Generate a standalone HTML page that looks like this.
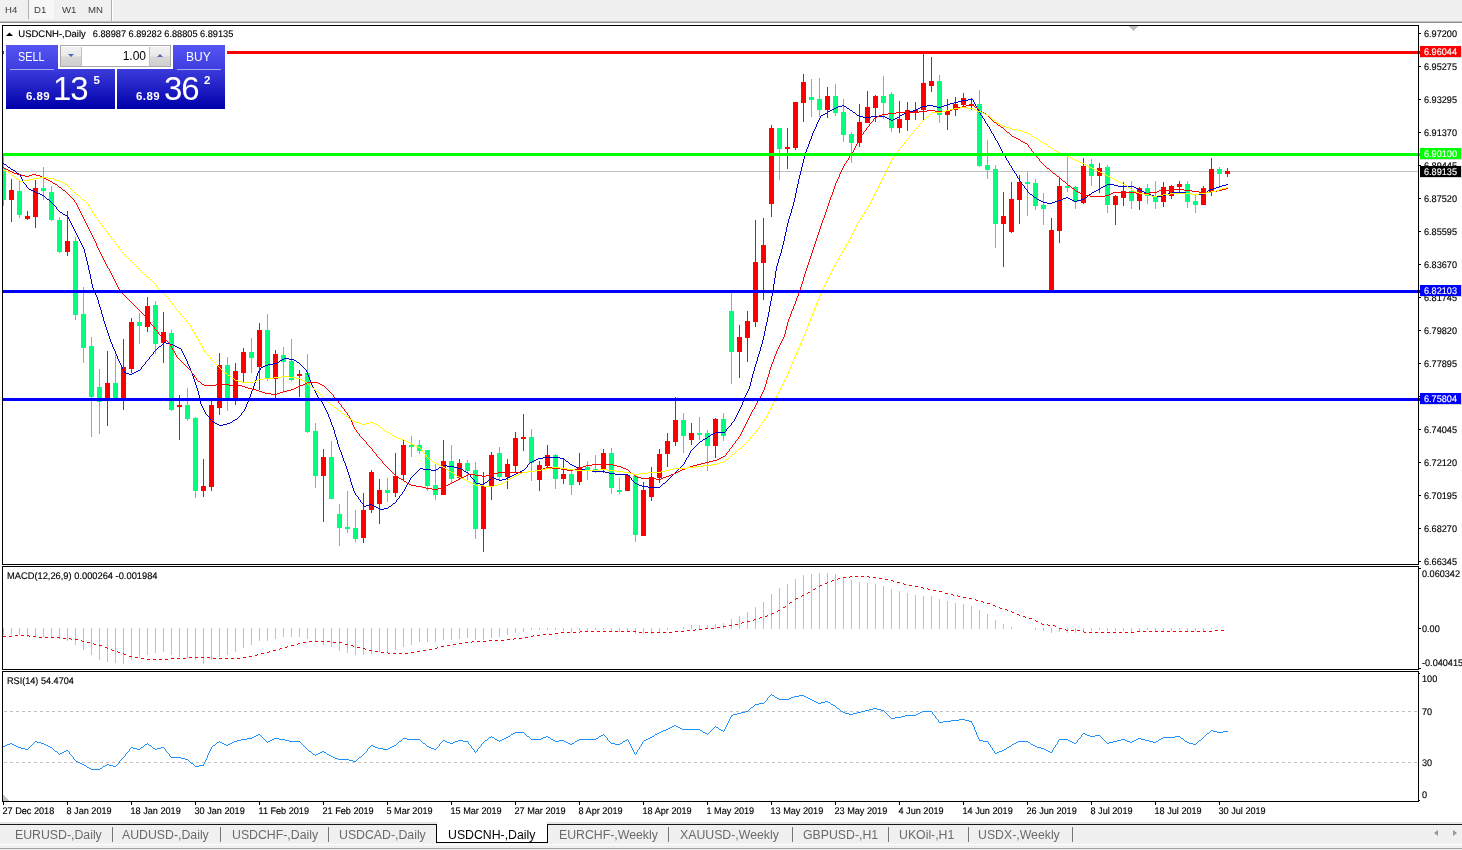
<!DOCTYPE html>
<html><head><meta charset="utf-8"><title>USDCNH-,Daily</title>
<style>
html,body{margin:0;padding:0;}
body{width:1462px;height:850px;overflow:hidden;background:#f0f0f0;position:relative;font-family:"Liberation Sans",sans-serif;}
#chart{position:absolute;left:0;top:0;}
.abs{position:absolute;}
#tb span{position:absolute;top:3.6px;font-size:9.6px;line-height:12px;color:#3a3a3a;}
#tabs span{position:absolute;top:827px;font-size:12.3px;color:#6a6a6a;white-space:nowrap;line-height:16px;}
#tabs i{position:absolute;top:827px;width:1px;height:15px;background:#777;}
.pnl{position:absolute;color:#fff;}
</style></head><body>
<svg id="chart" width="1462" height="850" viewBox="0 0 1462 850" shape-rendering="crispEdges">
<rect x="0" y="23" width="1462" height="799" fill="#fff"/>
<rect x="3" y="171" width="1416" height="1" fill="#c0c0c0"/>
<path fill="#00ff7f" d="M3 153h1V206h-1zM3 169h3v31h-3zM19 181h1V218h-1zM17 191h5v24h-5zM43 167h1V200h-1zM41 188h5v3h-5zM51 186h1V221h-1zM49 192h5v28h-5zM59 217h1V253h-1zM57 220h5v32h-5zM75 237h1V320h-1zM73 241h5v74h-5zM83 287h1V363h-1zM81 314h5v34h-5zM91 337h1V437h-1zM89 346h5v51h-5zM99 369h1V434h-1zM97 387h5v15h-5zM115 355h1V400h-1zM113 383h5v16h-5zM139 313h1V344h-1zM137 322h5v4h-5zM155 301h1V354h-1zM153 305h5v39h-5zM171 330h1V411h-1zM169 333h5v77h-5zM187 388h1V421h-1zM185 405h5v14h-5zM195 417h1V498h-1zM193 418h5v73h-5zM227 357h1V411h-1zM225 365h5v34h-5zM251 338h1V373h-1zM249 352h5v6h-5zM267 314h1V381h-1zM265 330h5v49h-5zM283 347h1V391h-1zM281 355h5v7h-5zM291 339h1V381h-1zM289 361h5v19h-5zM307 354h1V433h-1zM305 373h5v59h-5zM315 423h1V488h-1zM313 431h5v45h-5zM331 441h1V499h-1zM329 457h5v42h-5zM339 504h1V546h-1zM337 514h5v14h-5zM347 491h1V533h-1zM345 527h5v2h-5zM355 510h1V542h-1zM353 528h5v11h-5zM387 478h1V502h-1zM385 490h5v3h-5zM411 436h1V457h-1zM409 445h5v2h-5zM419 440h1V454h-1zM417 445h5v6h-5zM427 450h1V491h-1zM425 450h5v36h-5zM435 464h1V500h-1zM433 485h5v10h-5zM451 445h1V483h-1zM449 461h5v18h-5zM467 460h1V480h-1zM465 463h5v8h-5zM475 462h1V539h-1zM473 470h5v59h-5zM499 447h1V480h-1zM497 453h5v24h-5zM531 429h1V481h-1zM529 437h5v26h-5zM555 454h1V489h-1zM553 455h5v24h-5zM571 471h1V495h-1zM569 474h5v11h-5zM587 461h1V480h-1zM585 467h5v3h-5zM595 455h1V473h-1zM593 469h5v1h-5zM611 448h1V494h-1zM609 453h5v35h-5zM619 478h1V494h-1zM617 490h5v2h-5zM635 475h1V542h-1zM633 476h5v59h-5zM683 413h1V453h-1zM681 420h5v16h-5zM699 417h1V440h-1zM697 433h5v2h-5zM707 430h1V471h-1zM705 433h5v13h-5zM723 413h1V441h-1zM721 419h5v17h-5zM731 293h1V384h-1zM729 311h5v41h-5zM779 128h1V180h-1zM777 128h5v21h-5zM811 79h1V117h-1zM809 97h5v3h-5zM819 78h1V117h-1zM817 99h5v11h-5zM835 84h1V116h-1zM833 96h5v17h-5zM843 99h1V142h-1zM841 112h5v23h-5zM851 132h1V163h-1zM849 134h5v9h-5zM883 76h1V119h-1zM881 96h5v7h-5zM891 92h1V132h-1zM889 94h5v34h-5zM939 75h1V123h-1zM937 81h5v34h-5zM979 90h1V167h-1zM977 104h5v62h-5zM987 140h1V179h-1zM985 165h5v5h-5zM995 165h1V248h-1zM993 169h5v55h-5zM1027 172h1V216h-1zM1025 182h5v2h-5zM1035 179h1V210h-1zM1033 183h5v23h-5zM1043 193h1V225h-1zM1041 205h5v4h-5zM1067 157h1V192h-1zM1065 186h5v2h-5zM1075 186h1V209h-1zM1073 187h5v15h-5zM1091 159h1V186h-1zM1089 164h5v12h-5zM1107 165h1V213h-1zM1105 167h5v38h-5zM1131 181h1V209h-1zM1129 191h5v10h-5zM1147 184h1V204h-1zM1145 188h5v8h-5zM1155 181h1V209h-1zM1153 196h5v6h-5zM1187 181h1V208h-1zM1185 184h5v18h-5zM1195 194h1V213h-1zM1193 201h5v4h-5zM1219 167h1V188h-1zM1217 169h5v5h-5z"/>
<path fill="#ff0000" d="M11 179h1V222h-1zM9 190h5v10h-5zM27 211h1V220h-1zM25 216h5v3h-5zM35 180h1V228h-1zM33 188h5v29h-5zM67 211h1V256h-1zM65 241h5v11h-5zM107 351h1V426h-1zM105 383h5v16h-5zM123 339h1V410h-1zM121 367h5v32h-5zM131 318h1V373h-1zM129 322h5v47h-5zM147 297h1V332h-1zM145 306h5v21h-5zM163 312h1V363h-1zM161 332h5v11h-5zM179 395h1V440h-1zM177 405h5v2h-5zM203 459h1V497h-1zM201 486h5v5h-5zM211 400h1V491h-1zM209 405h5v82h-5zM219 353h1V415h-1zM217 365h5v43h-5zM235 363h1V405h-1zM233 371h5v28h-5zM243 348h1V382h-1zM241 352h5v21h-5zM259 323h1V390h-1zM257 330h5v37h-5zM275 350h1V398h-1zM273 354h5v25h-5zM299 370h1V397h-1zM297 374h5v2h-5zM323 449h1V522h-1zM321 457h5v19h-5zM363 493h1V543h-1zM361 510h5v28h-5zM371 470h1V513h-1zM369 472h5v38h-5zM379 479h1V524h-1zM377 490h5v14h-5zM395 453h1V497h-1zM393 476h5v17h-5zM403 440h1V481h-1zM401 445h5v30h-5zM443 440h1V495h-1zM441 461h5v34h-5zM459 459h1V479h-1zM457 463h5v15h-5zM483 472h1V552h-1zM481 486h5v43h-5zM491 452h1V500h-1zM489 455h5v32h-5zM507 459h1V489h-1zM505 464h5v13h-5zM515 432h1V473h-1zM513 438h5v28h-5zM523 414h1V451h-1zM521 437h5v2h-5zM539 461h1V491h-1zM537 465h5v15h-5zM547 445h1V468h-1zM545 455h5v11h-5zM563 458h1V484h-1zM561 474h5v5h-5zM579 453h1V485h-1zM577 467h5v15h-5zM603 449h1V473h-1zM601 453h5v16h-5zM627 475h1V491h-1zM625 475h5v16h-5zM643 482h1V536h-1zM641 490h5v46h-5zM651 467h1V501h-1zM649 477h5v20h-5zM659 449h1V483h-1zM657 454h5v24h-5zM667 433h1V467h-1zM665 441h5v13h-5zM675 397h1V446h-1zM673 420h5v22h-5zM691 423h1V445h-1zM689 433h5v7h-5zM715 418h1V458h-1zM713 419h5v27h-5zM739 325h1V378h-1zM737 337h5v15h-5zM747 311h1V362h-1zM745 321h5v17h-5zM755 220h1V327h-1zM753 262h5v60h-5zM763 218h1V300h-1zM761 245h5v18h-5zM771 125h1V217h-1zM769 128h5v76h-5zM787 128h1V169h-1zM785 147h5v2h-5zM795 102h1V150h-1zM793 102h5v46h-5zM803 74h1V122h-1zM801 82h5v21h-5zM827 87h1V118h-1zM825 96h5v14h-5zM859 104h1V147h-1zM857 122h5v21h-5zM867 91h1V123h-1zM865 107h5v16h-5zM875 95h1V122h-1zM873 96h5v12h-5zM899 101h1V133h-1zM897 119h5v9h-5zM907 102h1V131h-1zM905 110h5v10h-5zM915 102h1V120h-1zM913 110h5v2h-5zM923 54h1V120h-1zM921 83h5v27h-5zM931 57h1V92h-1zM929 81h5v5h-5zM947 99h1V130h-1zM945 111h5v4h-5zM955 97h1V116h-1zM953 104h5v6h-5zM963 93h1V107h-1zM961 98h5v7h-5zM971 98h1V110h-1zM969 104h5v2h-5zM1003 192h1V267h-1zM1001 216h5v8h-5zM1011 182h1V233h-1zM1009 199h5v33h-5zM1019 175h1V224h-1zM1017 182h5v18h-5zM1051 218h1V291h-1zM1049 230h5v61h-5zM1059 177h1V243h-1zM1057 186h5v45h-5zM1083 158h1V204h-1zM1081 166h5v37h-5zM1099 163h1V193h-1zM1097 168h5v8h-5zM1115 195h1V225h-1zM1113 196h5v9h-5zM1123 182h1V206h-1zM1121 191h5v7h-5zM1139 187h1V210h-1zM1137 188h5v13h-5zM1163 182h1V207h-1zM1161 187h5v15h-5zM1171 185h1V199h-1zM1169 186h5v10h-5zM1179 181h1V194h-1zM1177 184h5v3h-5zM1203 186h1V205h-1zM1201 188h5v17h-5zM1211 158h1V196h-1zM1209 169h5v23h-5zM1227 168h1V177h-1zM1225 171h5v3h-5z"/>
<path fill="#0000cd" d="M968 99h5v1h-5zM962 100h6v1h-6zM958 101h4v1h-4zM954 102h4v1h-4zM950 103h4v1h-4zM947 104h3v1h-3zM842 105h2v1h-2zM927 105h6v1h-6zM944 105h3v1h-3zM838 106h4v1h-4zM844 106h2v1h-2zM922 106h5v1h-5zM933 106h4v1h-4zM941 106h3v1h-3zM836 107h2v1h-2zM920 107h2v1h-2zM937 107h4v1h-4zM834 108h2v1h-2zM847 108h2v1h-2zM918 108h2v1h-2zM832 109h2v1h-2zM916 109h2v1h-2zM830 110h2v1h-2zM850 110h2v1h-2zM913 110h3v1h-3zM828 111h2v1h-2zM909 111h4v1h-4zM853 112h2v1h-2zM906 112h3v1h-3zM825 113h2v1h-2zM904 113h2v1h-2zM823 114h2v1h-2zM902 114h2v1h-2zM821 115h2v1h-2zM857 115h2v1h-2zM900 115h2v1h-2zM859 116h4v1h-4zM871 116h14v1h-14zM863 117h8v1h-8zM885 117h2v1h-2zM897 117h2v1h-2zM887 118h2v1h-2zM895 118h2v1h-2zM889 119h2v1h-2zM893 119h2v1h-2zM891 120h2v1h-2zM4 164h2v1h-2zM8 167h2v1h-2zM11 169h2v1h-2zM13 170h2v1h-2zM17 173h2v1h-2zM1107 184h7v1h-7zM1226 184h2v1h-2zM1105 185h2v1h-2zM1114 185h4v1h-4zM1222 185h4v1h-4zM1103 186h2v1h-2zM1118 186h16v1h-16zM1219 186h3v1h-3zM1101 187h2v1h-2zM1134 187h2v1h-2zM1216 187h3v1h-3zM1136 188h2v1h-2zM1213 188h3v1h-3zM29 189h2v1h-2zM1098 189h2v1h-2zM1138 189h2v1h-2zM1210 189h3v1h-3zM31 190h2v1h-2zM1096 190h2v1h-2zM1140 190h2v1h-2zM1208 190h2v1h-2zM33 191h2v1h-2zM1094 191h2v1h-2zM1142 191h2v1h-2zM35 192h2v1h-2zM1092 192h2v1h-2zM1144 192h2v1h-2zM1172 192h14v1h-14zM1205 192h2v1h-2zM37 193h3v1h-3zM1146 193h3v1h-3zM1168 193h4v1h-4zM1186 193h6v1h-6zM40 194h2v1h-2zM1030 194h2v1h-2zM1089 194h2v1h-2zM1149 194h2v1h-2zM1165 194h3v1h-3zM1192 194h12v1h-12zM42 195h2v1h-2zM1151 195h3v1h-3zM1162 195h3v1h-3zM1154 196h8v1h-8zM1034 197h2v1h-2zM1066 197h2v1h-2zM1085 197h2v1h-2zM1063 198h3v1h-3zM1068 198h2v1h-2zM47 199h2v1h-2zM1037 199h2v1h-2zM1061 199h2v1h-2zM1070 199h2v1h-2zM1081 199h3v1h-3zM1039 200h2v1h-2zM1058 200h3v1h-3zM1072 200h2v1h-2zM1077 200h4v1h-4zM1041 201h2v1h-2zM1055 201h3v1h-3zM1074 201h3v1h-3zM1043 202h4v1h-4zM1052 202h3v1h-3zM1047 203h5v1h-5zM60 212h2v1h-2zM63 214h2v1h-2zM65 215h2v1h-2zM164 342h2v1h-2zM166 343h4v1h-4zM170 344h3v1h-3zM173 345h2v1h-2zM159 346h2v1h-2zM175 346h2v1h-2zM177 347h2v1h-2zM179 348h2v1h-2zM284 358h5v1h-5zM282 359h2v1h-2zM289 359h5v1h-5zM280 360h2v1h-2zM294 360h2v1h-2zM277 362h2v1h-2zM297 362h2v1h-2zM273 363h4v1h-4zM268 364h5v1h-5zM265 365h3v1h-3zM263 366h2v1h-2zM261 367h2v1h-2zM138 370h2v1h-2zM136 371h2v1h-2zM124 372h2v1h-2zM134 372h2v1h-2zM126 373h3v1h-3zM132 373h2v1h-2zM129 374h3v1h-3zM235 419h2v1h-2zM233 420h2v1h-2zM213 422h2v1h-2zM230 422h2v1h-2zM215 423h2v1h-2zM227 423h3v1h-3zM217 424h2v1h-2zM223 424h4v1h-4zM219 425h4v1h-4zM715 432h10v1h-10zM713 433h2v1h-2zM711 434h2v1h-2zM708 436h2v1h-2zM705 438h2v1h-2zM703 439h2v1h-2zM700 441h2v1h-2zM543 457h17v1h-17zM538 458h5v1h-5zM560 458h4v1h-4zM536 459h2v1h-2zM534 460h2v1h-2zM532 461h2v1h-2zM566 461h2v1h-2zM530 462h2v1h-2zM570 464h2v1h-2zM443 465h4v1h-4zM572 465h2v1h-2zM441 466h2v1h-2zM447 466h7v1h-7zM574 466h2v1h-2zM439 467h2v1h-2zM454 467h4v1h-4zM576 467h2v1h-2zM420 468h3v1h-3zM458 468h3v1h-3zM578 468h3v1h-3zM423 469h8v1h-8zM436 469h2v1h-2zM461 469h2v1h-2zM581 469h4v1h-4zM431 470h5v1h-5zM522 470h2v1h-2zM585 470h7v1h-7zM464 471h2v1h-2zM520 471h2v1h-2zM592 471h13v1h-13zM466 472h2v1h-2zM518 472h2v1h-2zM605 472h4v1h-4zM516 473h2v1h-2zM609 473h6v1h-6zM514 474h2v1h-2zM615 474h13v1h-13zM512 475h2v1h-2zM510 476h2v1h-2zM492 477h2v1h-2zM508 477h2v1h-2zM494 478h2v1h-2zM506 478h2v1h-2zM489 479h2v1h-2zM496 479h3v1h-3zM502 479h4v1h-4zM499 480h3v1h-3zM485 482h2v1h-2zM476 483h4v1h-4zM635 483h2v1h-2zM663 483h2v1h-2zM480 484h4v1h-4zM637 484h2v1h-2zM639 485h3v1h-3zM642 486h6v1h-6zM648 487h12v1h-12zM393 503h2v1h-2zM369 504h3v1h-3zM366 505h3v1h-3zM372 505h2v1h-2zM364 506h2v1h-2zM374 506h2v1h-2zM389 506h2v1h-2zM376 507h2v1h-2zM378 508h2v1h-2zM384 508h4v1h-4zM380 509h4v1h-4zM3 163h1v1h-1zM6 165h1v1h-1zM7 166h1v1h-1zM10 168h1v1h-1zM15 171h1v1h-1zM16 172h1v1h-1zM19 174h1v1h-1zM20 175h1v2h-1zM21 177h1v2h-1zM22 179h1v2h-1zM23 181h1v2h-1zM24 183h1v1h-1zM25 184h1v1h-1zM26 185h1v2h-1zM27 187h1v1h-1zM28 188h1v1h-1zM44 196h1v1h-1zM45 197h1v1h-1zM46 198h1v1h-1zM49 200h1v1h-1zM50 201h1v1h-1zM51 202h1v1h-1zM52 203h1v1h-1zM53 204h1v1h-1zM54 205h1v1h-1zM55 206h1v1h-1zM56 207h1v2h-1zM57 209h1v1h-1zM58 210h1v1h-1zM59 211h1v1h-1zM62 213h1v1h-1zM67 216h1v1h-1zM68 217h1v2h-1zM69 219h1v2h-1zM70 221h1v2h-1zM71 223h1v2h-1zM72 225h1v2h-1zM73 227h1v2h-1zM74 229h1v2h-1zM75 231h1v2h-1zM76 233h1v2h-1zM77 235h1v2h-1zM78 237h1v2h-1zM79 239h1v2h-1zM80 241h1v2h-1zM81 243h1v2h-1zM82 245h1v2h-1zM83 247h1v2h-1zM84 249h1v4h-1zM85 253h1v4h-1zM86 257h1v4h-1zM87 261h1v4h-1zM88 265h1v5h-1zM89 270h1v4h-1zM90 274h1v5h-1zM91 279h1v5h-1zM92 284h1v4h-1zM93 288h1v3h-1zM94 291h1v2h-1zM95 293h1v2h-1zM96 295h1v2h-1zM97 297h1v3h-1zM98 300h1v4h-1zM99 304h1v3h-1zM100 307h1v3h-1zM101 310h1v4h-1zM102 314h1v3h-1zM103 317h1v4h-1zM104 321h1v3h-1zM105 324h1v3h-1zM106 327h1v3h-1zM107 330h1v3h-1zM108 333h1v3h-1zM109 336h1v3h-1zM110 339h1v3h-1zM111 342h1v2h-1zM112 344h1v3h-1zM113 347h1v2h-1zM114 349h1v2h-1zM115 351h1v3h-1zM116 354h1v2h-1zM117 356h1v3h-1zM118 359h1v2h-1zM119 361h1v2h-1zM120 363h1v2h-1zM121 365h1v2h-1zM122 367h1v2h-1zM123 369h1v2h-1zM124 371h1v1h-1zM140 369h1v1h-1zM141 367h1v2h-1zM142 366h1v1h-1zM143 365h1v1h-1zM144 364h1v1h-1zM145 362h1v2h-1zM146 361h1v1h-1zM147 360h1v1h-1zM148 359h1v1h-1zM149 357h1v2h-1zM150 356h1v1h-1zM151 355h1v1h-1zM152 354h1v1h-1zM153 352h1v2h-1zM154 351h1v1h-1zM155 350h1v1h-1zM156 349h1v1h-1zM157 348h1v1h-1zM158 347h1v1h-1zM161 345h1v1h-1zM162 344h1v1h-1zM163 343h1v1h-1zM181 349h1v2h-1zM182 351h1v2h-1zM183 353h1v2h-1zM184 355h1v2h-1zM185 357h1v2h-1zM186 359h1v2h-1zM187 361h1v3h-1zM188 364h1v2h-1zM189 366h1v2h-1zM190 368h1v3h-1zM191 371h1v2h-1zM192 373h1v3h-1zM193 376h1v3h-1zM194 379h1v3h-1zM195 382h1v3h-1zM196 385h1v3h-1zM197 388h1v3h-1zM198 391h1v4h-1zM199 395h1v6h-1zM200 401h1v3h-1zM201 404h1v2h-1zM202 406h1v2h-1zM203 408h1v2h-1zM204 410h1v2h-1zM205 412h1v2h-1zM206 414h1v1h-1zM207 415h1v1h-1zM208 416h1v1h-1zM209 417h1v2h-1zM210 419h1v1h-1zM211 420h1v1h-1zM212 421h1v1h-1zM232 421h1v1h-1zM237 418h1v1h-1zM238 417h1v1h-1zM239 416h1v1h-1zM240 415h1v1h-1zM241 413h1v2h-1zM242 412h1v1h-1zM243 411h1v1h-1zM244 409h1v2h-1zM245 407h1v2h-1zM246 404h1v3h-1zM247 402h1v2h-1zM248 399h1v3h-1zM249 397h1v2h-1zM250 394h1v3h-1zM251 391h1v3h-1zM252 389h1v2h-1zM253 386h1v3h-1zM254 383h1v3h-1zM255 380h1v3h-1zM256 376h1v4h-1zM257 373h1v3h-1zM258 371h1v2h-1zM259 370h1v1h-1zM260 368h1v2h-1zM279 361h1v1h-1zM296 361h1v1h-1zM299 363h1v1h-1zM300 364h1v1h-1zM301 365h1v1h-1zM302 366h1v1h-1zM303 367h1v1h-1zM304 368h1v1h-1zM305 369h1v1h-1zM306 370h1v2h-1zM307 372h1v3h-1zM308 375h1v2h-1zM309 377h1v3h-1zM310 380h1v3h-1zM311 383h1v2h-1zM312 385h1v2h-1zM313 387h1v2h-1zM314 389h1v2h-1zM315 391h1v2h-1zM316 393h1v2h-1zM317 395h1v2h-1zM318 397h1v1h-1zM319 398h1v1h-1zM320 399h1v2h-1zM321 401h1v1h-1zM322 402h1v2h-1zM323 404h1v2h-1zM324 406h1v2h-1zM325 408h1v2h-1zM326 410h1v2h-1zM327 412h1v2h-1zM328 414h1v3h-1zM329 417h1v2h-1zM330 419h1v3h-1zM331 422h1v3h-1zM332 425h1v2h-1zM333 427h1v3h-1zM334 430h1v4h-1zM335 434h1v3h-1zM336 437h1v3h-1zM337 440h1v4h-1zM338 444h1v3h-1zM339 447h1v3h-1zM340 450h1v2h-1zM341 452h1v3h-1zM342 455h1v3h-1zM343 458h1v3h-1zM344 461h1v2h-1zM345 463h1v3h-1zM346 466h1v3h-1zM347 469h1v3h-1zM348 472h1v3h-1zM349 475h1v3h-1zM350 478h1v4h-1zM351 482h1v3h-1zM352 485h1v3h-1zM353 488h1v3h-1zM354 491h1v2h-1zM355 493h1v2h-1zM356 495h1v1h-1zM357 496h1v1h-1zM358 497h1v2h-1zM359 499h1v1h-1zM360 500h1v2h-1zM361 502h1v1h-1zM362 503h1v1h-1zM363 504h1v2h-1zM388 507h1v1h-1zM391 505h1v1h-1zM392 504h1v1h-1zM395 502h1v1h-1zM396 500h1v2h-1zM397 499h1v1h-1zM398 498h1v1h-1zM399 496h1v2h-1zM400 495h1v1h-1zM401 494h1v1h-1zM402 492h1v2h-1zM403 491h1v1h-1zM404 489h1v2h-1zM405 487h1v2h-1zM406 485h1v2h-1zM407 484h1v1h-1zM408 482h1v2h-1zM409 480h1v2h-1zM410 478h1v2h-1zM411 477h1v1h-1zM412 476h1v1h-1zM413 475h1v1h-1zM414 474h1v1h-1zM415 473h1v1h-1zM416 472h1v1h-1zM417 471h1v1h-1zM418 470h1v1h-1zM419 469h1v1h-1zM438 468h1v1h-1zM463 470h1v1h-1zM468 473h1v1h-1zM469 474h1v1h-1zM470 475h1v2h-1zM471 477h1v1h-1zM472 478h1v1h-1zM473 479h1v1h-1zM474 480h1v2h-1zM475 482h1v1h-1zM484 483h1v1h-1zM487 481h1v1h-1zM488 480h1v1h-1zM491 478h1v1h-1zM524 469h1v1h-1zM525 468h1v1h-1zM526 467h1v1h-1zM527 465h1v2h-1zM528 464h1v1h-1zM529 463h1v1h-1zM564 459h1v1h-1zM565 460h1v1h-1zM568 462h1v1h-1zM569 463h1v1h-1zM628 475h1v1h-1zM629 476h1v1h-1zM630 477h1v1h-1zM631 478h1v2h-1zM632 480h1v1h-1zM633 481h1v1h-1zM634 482h1v1h-1zM660 486h1v1h-1zM661 485h1v1h-1zM662 484h1v1h-1zM665 482h1v1h-1zM666 481h1v1h-1zM667 480h1v1h-1zM668 479h1v1h-1zM669 478h1v1h-1zM670 477h1v1h-1zM671 476h1v1h-1zM672 475h1v1h-1zM673 474h1v1h-1zM674 473h1v1h-1zM675 472h1v1h-1zM676 471h1v1h-1zM677 470h1v1h-1zM678 469h1v1h-1zM679 468h1v1h-1zM680 467h1v1h-1zM681 466h1v1h-1zM682 465h1v1h-1zM683 464h1v1h-1zM684 462h1v2h-1zM685 460h1v2h-1zM686 458h1v2h-1zM687 457h1v1h-1zM688 455h1v2h-1zM689 453h1v2h-1zM690 451h1v2h-1zM691 450h1v1h-1zM692 449h1v1h-1zM693 448h1v1h-1zM694 447h1v1h-1zM695 446h1v1h-1zM696 445h1v1h-1zM697 444h1v1h-1zM698 443h1v1h-1zM699 442h1v1h-1zM702 440h1v1h-1zM707 437h1v1h-1zM710 435h1v1h-1zM725 431h1v1h-1zM726 429h1v2h-1zM727 428h1v1h-1zM728 427h1v1h-1zM729 426h1v1h-1zM730 425h1v1h-1zM731 423h1v2h-1zM732 422h1v1h-1zM733 421h1v1h-1zM734 419h1v2h-1zM735 417h1v2h-1zM736 415h1v2h-1zM737 413h1v2h-1zM738 411h1v2h-1zM739 409h1v2h-1zM740 407h1v2h-1zM741 405h1v2h-1zM742 402h1v3h-1zM743 400h1v2h-1zM744 397h1v3h-1zM745 395h1v2h-1zM746 393h1v2h-1zM747 391h1v2h-1zM748 389h1v2h-1zM749 386h1v3h-1zM750 382h1v4h-1zM751 378h1v4h-1zM752 374h1v4h-1zM753 371h1v3h-1zM754 367h1v4h-1zM755 364h1v3h-1zM756 361h1v3h-1zM757 357h1v4h-1zM758 354h1v3h-1zM759 351h1v3h-1zM760 347h1v4h-1zM761 344h1v3h-1zM762 340h1v4h-1zM763 336h1v4h-1zM764 331h1v5h-1zM765 326h1v5h-1zM766 322h1v4h-1zM767 317h1v5h-1zM768 312h1v5h-1zM769 306h1v6h-1zM770 301h1v5h-1zM771 296h1v5h-1zM772 290h1v6h-1zM773 284h1v6h-1zM774 278h1v6h-1zM775 271h1v7h-1zM776 266h1v5h-1zM777 263h1v3h-1zM778 259h1v4h-1zM779 256h1v3h-1zM780 253h1v3h-1zM781 249h1v4h-1zM782 245h1v4h-1zM783 241h1v4h-1zM784 236h1v5h-1zM785 232h1v4h-1zM786 227h1v5h-1zM787 223h1v4h-1zM788 219h1v4h-1zM789 216h1v3h-1zM790 213h1v3h-1zM791 209h1v4h-1zM792 206h1v3h-1zM793 202h1v4h-1zM794 198h1v4h-1zM795 193h1v5h-1zM796 188h1v5h-1zM797 184h1v4h-1zM798 179h1v5h-1zM799 175h1v4h-1zM800 171h1v4h-1zM801 167h1v4h-1zM802 163h1v4h-1zM803 159h1v4h-1zM804 155h1v4h-1zM805 152h1v3h-1zM806 149h1v3h-1zM807 147h1v2h-1zM808 144h1v3h-1zM809 141h1v3h-1zM810 139h1v2h-1zM811 136h1v3h-1zM812 133h1v3h-1zM813 131h1v2h-1zM814 129h1v2h-1zM815 127h1v2h-1zM816 124h1v3h-1zM817 122h1v2h-1zM818 120h1v2h-1zM819 118h1v2h-1zM820 116h1v2h-1zM827 112h1v1h-1zM846 107h1v1h-1zM849 109h1v1h-1zM852 111h1v1h-1zM855 113h1v1h-1zM856 114h1v1h-1zM899 116h1v1h-1zM973 100h1v2h-1zM974 102h1v2h-1zM975 104h1v2h-1zM976 106h1v2h-1zM977 108h1v2h-1zM978 110h1v2h-1zM979 112h1v1h-1zM980 113h1v2h-1zM981 115h1v1h-1zM982 116h1v2h-1zM983 118h1v1h-1zM984 119h1v2h-1zM985 121h1v2h-1zM986 123h1v1h-1zM987 124h1v2h-1zM988 126h1v1h-1zM989 127h1v2h-1zM990 129h1v2h-1zM991 131h1v2h-1zM992 133h1v1h-1zM993 134h1v2h-1zM994 136h1v2h-1zM995 138h1v2h-1zM996 140h1v1h-1zM997 141h1v2h-1zM998 143h1v2h-1zM999 145h1v2h-1zM1000 147h1v2h-1zM1001 149h1v2h-1zM1002 151h1v2h-1zM1003 153h1v2h-1zM1004 155h1v1h-1zM1005 156h1v2h-1zM1006 158h1v2h-1zM1007 160h1v1h-1zM1008 161h1v2h-1zM1009 163h1v2h-1zM1010 165h1v1h-1zM1011 166h1v2h-1zM1012 168h1v2h-1zM1013 170h1v1h-1zM1014 171h1v2h-1zM1015 173h1v1h-1zM1016 174h1v2h-1zM1017 176h1v2h-1zM1018 178h1v1h-1zM1019 179h1v2h-1zM1020 181h1v1h-1zM1021 182h1v2h-1zM1022 184h1v1h-1zM1023 185h1v1h-1zM1024 186h1v2h-1zM1025 188h1v1h-1zM1026 189h1v1h-1zM1027 190h1v2h-1zM1028 192h1v1h-1zM1029 193h1v1h-1zM1032 195h1v1h-1zM1033 196h1v1h-1zM1036 198h1v1h-1zM1084 198h1v1h-1zM1087 196h1v1h-1zM1088 195h1v1h-1zM1091 193h1v1h-1zM1100 188h1v1h-1zM1204 193h1v1h-1zM1207 191h1v1h-1z"/>
<path fill="#ff0000" d="M970 104h3v1h-3zM966 105h4v1h-4zM962 106h4v1h-4zM958 107h4v1h-4zM975 107h2v1h-2zM955 108h3v1h-3zM952 109h3v1h-3zM927 110h8v1h-8zM950 110h2v1h-2zM919 111h8v1h-8zM935 111h15v1h-15zM980 111h2v1h-2zM896 112h23v1h-23zM982 112h2v1h-2zM888 113h8v1h-8zM984 113h2v1h-2zM882 114h6v1h-6zM879 115h3v1h-3zM877 116h2v1h-2zM875 117h2v1h-2zM994 122h2v1h-2zM998 125h2v1h-2zM1001 127h2v1h-2zM1007 132h2v1h-2zM1012 136h2v1h-2zM1014 137h2v1h-2zM1016 138h2v1h-2zM1018 139h2v1h-2zM1021 141h2v1h-2zM1023 142h2v1h-2zM1025 143h2v1h-2zM4 168h2v1h-2zM1047 168h2v1h-2zM6 169h2v1h-2zM8 170h2v1h-2zM10 171h2v1h-2zM12 172h2v1h-2zM14 173h3v1h-3zM1053 173h2v1h-2zM17 174h4v1h-4zM32 174h4v1h-4zM21 175h4v1h-4zM29 175h3v1h-3zM36 175h4v1h-4zM25 176h4v1h-4zM40 176h2v1h-2zM1057 176h2v1h-2zM42 177h2v1h-2zM44 178h2v1h-2zM46 179h2v1h-2zM48 180h2v1h-2zM50 181h2v1h-2zM1063 181h2v1h-2zM53 183h2v1h-2zM55 184h2v1h-2zM1068 185h2v1h-2zM59 187h2v1h-2zM1072 188h2v1h-2zM1226 188h2v1h-2zM1170 189h14v1h-14zM1222 189h4v1h-4zM63 190h2v1h-2zM1159 190h11v1h-11zM1184 190h8v1h-8zM1217 190h5v1h-5zM1076 191h2v1h-2zM1157 191h2v1h-2zM1192 191h7v1h-7zM1211 191h6v1h-6zM1078 192h2v1h-2zM1113 192h23v1h-23zM1149 192h8v1h-8zM1199 192h12v1h-12zM1080 193h3v1h-3zM1111 193h2v1h-2zM1136 193h13v1h-13zM1083 194h3v1h-3zM1109 194h2v1h-2zM1086 195h4v1h-4zM1105 195h4v1h-4zM1090 196h15v1h-15zM164 339h2v1h-2zM198 381h2v1h-2zM307 382h11v1h-11zM305 383h2v1h-2zM318 383h2v1h-2zM202 384h2v1h-2zM216 384h13v1h-13zM303 384h2v1h-2zM320 384h2v1h-2zM204 385h12v1h-12zM229 385h13v1h-13zM300 385h3v1h-3zM322 385h2v1h-2zM242 386h3v1h-3zM298 386h2v1h-2zM245 387h3v1h-3zM296 387h2v1h-2zM248 388h4v1h-4zM294 388h2v1h-2zM252 389h4v1h-4zM291 389h3v1h-3zM256 390h3v1h-3zM287 390h4v1h-4zM259 391h3v1h-3zM283 391h4v1h-4zM262 392h3v1h-3zM280 392h3v1h-3zM265 393h6v1h-6zM277 393h3v1h-3zM271 394h6v1h-6zM723 456h2v1h-2zM721 457h2v1h-2zM719 458h2v1h-2zM717 459h2v1h-2zM713 460h4v1h-4zM709 461h4v1h-4zM705 462h4v1h-4zM701 463h4v1h-4zM592 464h21v1h-21zM697 464h4v1h-4zM586 465h6v1h-6zM613 465h4v1h-4zM693 465h4v1h-4zM583 466h3v1h-3zM617 466h4v1h-4zM690 466h3v1h-3zM546 467h6v1h-6zM581 467h2v1h-2zM621 467h2v1h-2zM687 467h3v1h-3zM543 468h3v1h-3zM552 468h9v1h-9zM577 468h4v1h-4zM623 468h3v1h-3zM685 468h2v1h-2zM541 469h2v1h-2zM561 469h6v1h-6zM573 469h4v1h-4zM626 469h2v1h-2zM682 469h3v1h-3zM535 470h6v1h-6zM567 470h6v1h-6zM680 470h2v1h-2zM527 471h8v1h-8zM678 471h2v1h-2zM498 472h29v1h-29zM676 472h2v1h-2zM494 473h4v1h-4zM631 473h2v1h-2zM674 473h2v1h-2zM468 474h7v1h-7zM490 474h4v1h-4zM671 474h3v1h-3zM466 475h2v1h-2zM475 475h7v1h-7zM486 475h4v1h-4zM669 475h2v1h-2zM396 476h2v1h-2zM464 476h2v1h-2zM482 476h4v1h-4zM635 476h2v1h-2zM666 476h3v1h-3zM462 477h2v1h-2zM637 477h4v1h-4zM663 477h3v1h-3zM399 478h2v1h-2zM460 478h2v1h-2zM641 478h15v1h-15zM661 478h2v1h-2zM401 479h2v1h-2zM458 479h2v1h-2zM656 479h5v1h-5zM456 480h2v1h-2zM404 481h2v1h-2zM454 481h2v1h-2zM452 482h2v1h-2zM407 483h2v1h-2zM450 483h2v1h-2zM409 484h2v1h-2zM448 484h2v1h-2zM411 485h5v1h-5zM446 485h2v1h-2zM416 486h6v1h-6zM444 486h2v1h-2zM422 487h4v1h-4zM441 487h3v1h-3zM426 488h6v1h-6zM438 488h3v1h-3zM432 489h6v1h-6zM3 167h1v1h-1zM52 182h1v1h-1zM57 185h1v1h-1zM58 186h1v1h-1zM61 188h1v1h-1zM62 189h1v1h-1zM65 191h1v1h-1zM66 192h1v1h-1zM67 193h1v1h-1zM68 194h1v1h-1zM69 195h1v1h-1zM70 196h1v1h-1zM71 197h1v1h-1zM72 198h1v1h-1zM73 199h1v1h-1zM74 200h1v2h-1zM75 202h1v1h-1zM76 203h1v2h-1zM77 205h1v2h-1zM78 207h1v2h-1zM79 209h1v2h-1zM80 211h1v2h-1zM81 213h1v2h-1zM82 215h1v2h-1zM83 217h1v2h-1zM84 219h1v2h-1zM85 221h1v2h-1zM86 223h1v2h-1zM87 225h1v2h-1zM88 227h1v2h-1zM89 229h1v2h-1zM90 231h1v2h-1zM91 233h1v2h-1zM92 235h1v2h-1zM93 237h1v2h-1zM94 239h1v2h-1zM95 241h1v2h-1zM96 243h1v3h-1zM97 246h1v2h-1zM98 248h1v2h-1zM99 250h1v2h-1zM100 252h1v2h-1zM101 254h1v2h-1zM102 256h1v2h-1zM103 258h1v2h-1zM104 260h1v2h-1zM105 262h1v2h-1zM106 264h1v2h-1zM107 266h1v2h-1zM108 268h1v1h-1zM109 269h1v2h-1zM110 271h1v2h-1zM111 273h1v2h-1zM112 275h1v2h-1zM113 277h1v2h-1zM114 279h1v2h-1zM115 281h1v2h-1zM116 283h1v2h-1zM117 285h1v2h-1zM118 287h1v2h-1zM119 289h1v1h-1zM120 290h1v1h-1zM121 291h1v2h-1zM122 293h1v1h-1zM123 294h1v1h-1zM124 295h1v1h-1zM125 296h1v1h-1zM126 297h1v1h-1zM127 298h1v1h-1zM128 299h1v1h-1zM129 300h1v1h-1zM130 301h1v1h-1zM131 302h1v1h-1zM132 303h1v1h-1zM133 304h1v1h-1zM134 305h1v1h-1zM135 306h1v1h-1zM136 307h1v1h-1zM137 308h1v1h-1zM138 309h1v1h-1zM139 310h1v1h-1zM140 311h1v1h-1zM141 312h1v1h-1zM142 313h1v1h-1zM143 314h1v1h-1zM144 315h1v1h-1zM145 316h1v1h-1zM146 317h1v2h-1zM147 319h1v1h-1zM148 320h1v1h-1zM149 321h1v1h-1zM150 322h1v2h-1zM151 324h1v1h-1zM152 325h1v1h-1zM153 326h1v1h-1zM154 327h1v2h-1zM155 329h1v1h-1zM156 330h1v1h-1zM157 331h1v1h-1zM158 332h1v2h-1zM159 334h1v1h-1zM160 335h1v1h-1zM161 336h1v1h-1zM162 337h1v1h-1zM163 338h1v1h-1zM166 340h1v1h-1zM167 341h1v1h-1zM168 342h1v1h-1zM169 343h1v1h-1zM170 344h1v2h-1zM171 346h1v2h-1zM172 348h1v2h-1zM173 350h1v1h-1zM174 351h1v2h-1zM175 353h1v2h-1zM176 355h1v2h-1zM177 357h1v1h-1zM178 358h1v1h-1zM179 359h1v1h-1zM180 360h1v1h-1zM181 361h1v1h-1zM182 362h1v1h-1zM183 363h1v1h-1zM184 364h1v1h-1zM185 365h1v1h-1zM186 366h1v1h-1zM187 367h1v1h-1zM188 368h1v1h-1zM189 369h1v1h-1zM190 370h1v1h-1zM191 371h1v2h-1zM192 373h1v1h-1zM193 374h1v1h-1zM194 375h1v2h-1zM195 377h1v1h-1zM196 378h1v2h-1zM197 380h1v1h-1zM200 382h1v1h-1zM201 383h1v1h-1zM324 386h1v1h-1zM325 387h1v1h-1zM326 388h1v1h-1zM327 389h1v1h-1zM328 390h1v1h-1zM329 391h1v1h-1zM330 392h1v1h-1zM331 393h1v1h-1zM332 394h1v1h-1zM333 395h1v2h-1zM334 397h1v1h-1zM335 398h1v1h-1zM336 399h1v1h-1zM337 400h1v1h-1zM338 401h1v2h-1zM339 403h1v1h-1zM340 404h1v1h-1zM341 405h1v2h-1zM342 407h1v1h-1zM343 408h1v1h-1zM344 409h1v2h-1zM345 411h1v1h-1zM346 412h1v1h-1zM347 413h1v2h-1zM348 415h1v1h-1zM349 416h1v2h-1zM350 418h1v2h-1zM351 420h1v2h-1zM352 422h1v3h-1zM353 425h1v2h-1zM354 427h1v2h-1zM355 429h1v1h-1zM356 430h1v2h-1zM357 432h1v1h-1zM358 433h1v1h-1zM359 434h1v2h-1zM360 436h1v1h-1zM361 437h1v1h-1zM362 438h1v1h-1zM363 439h1v1h-1zM364 440h1v1h-1zM365 441h1v1h-1zM366 442h1v2h-1zM367 444h1v1h-1zM368 445h1v1h-1zM369 446h1v1h-1zM370 447h1v1h-1zM371 448h1v1h-1zM372 449h1v2h-1zM373 451h1v1h-1zM374 452h1v1h-1zM375 453h1v1h-1zM376 454h1v2h-1zM377 456h1v1h-1zM378 457h1v1h-1zM379 458h1v1h-1zM380 459h1v1h-1zM381 460h1v1h-1zM382 461h1v2h-1zM383 463h1v1h-1zM384 464h1v1h-1zM385 465h1v1h-1zM386 466h1v1h-1zM387 467h1v1h-1zM388 468h1v1h-1zM389 469h1v1h-1zM390 470h1v1h-1zM391 471h1v1h-1zM392 472h1v1h-1zM393 473h1v1h-1zM394 474h1v1h-1zM395 475h1v1h-1zM398 477h1v1h-1zM403 480h1v1h-1zM406 482h1v1h-1zM628 470h1v1h-1zM629 471h1v1h-1zM630 472h1v1h-1zM633 474h1v1h-1zM634 475h1v1h-1zM725 455h1v1h-1zM726 453h1v2h-1zM727 452h1v1h-1zM728 451h1v1h-1zM729 449h1v2h-1zM730 448h1v1h-1zM731 447h1v1h-1zM732 445h1v2h-1zM733 444h1v1h-1zM734 443h1v1h-1zM735 441h1v2h-1zM736 440h1v1h-1zM737 439h1v1h-1zM738 437h1v2h-1zM739 436h1v1h-1zM740 434h1v2h-1zM741 432h1v2h-1zM742 430h1v2h-1zM743 428h1v2h-1zM744 426h1v2h-1zM745 424h1v2h-1zM746 422h1v2h-1zM747 420h1v2h-1zM748 418h1v2h-1zM749 416h1v2h-1zM750 414h1v2h-1zM751 412h1v2h-1zM752 410h1v2h-1zM753 409h1v1h-1zM754 407h1v2h-1zM755 405h1v2h-1zM756 403h1v2h-1zM757 401h1v2h-1zM758 400h1v1h-1zM759 398h1v2h-1zM760 396h1v2h-1zM761 394h1v2h-1zM762 392h1v2h-1zM763 390h1v2h-1zM764 387h1v3h-1zM765 384h1v3h-1zM766 380h1v4h-1zM767 377h1v3h-1zM768 374h1v3h-1zM769 370h1v4h-1zM770 367h1v3h-1zM771 364h1v3h-1zM772 362h1v2h-1zM773 359h1v3h-1zM774 356h1v3h-1zM775 354h1v2h-1zM776 351h1v3h-1zM777 349h1v2h-1zM778 347h1v2h-1zM779 345h1v2h-1zM780 343h1v2h-1zM781 341h1v2h-1zM782 339h1v2h-1zM783 337h1v2h-1zM784 334h1v3h-1zM785 330h1v4h-1zM786 326h1v4h-1zM787 322h1v4h-1zM788 319h1v3h-1zM789 317h1v2h-1zM790 314h1v3h-1zM791 311h1v3h-1zM792 309h1v2h-1zM793 306h1v3h-1zM794 304h1v2h-1zM795 301h1v3h-1zM796 298h1v3h-1zM797 296h1v2h-1zM798 293h1v3h-1zM799 290h1v3h-1zM800 287h1v3h-1zM801 284h1v3h-1zM802 281h1v3h-1zM803 277h1v4h-1zM804 274h1v3h-1zM805 271h1v3h-1zM806 268h1v3h-1zM807 265h1v3h-1zM808 262h1v3h-1zM809 259h1v3h-1zM810 256h1v3h-1zM811 253h1v3h-1zM812 250h1v3h-1zM813 247h1v3h-1zM814 244h1v3h-1zM815 241h1v3h-1zM816 238h1v3h-1zM817 235h1v3h-1zM818 232h1v3h-1zM819 229h1v3h-1zM820 226h1v3h-1zM821 223h1v3h-1zM822 220h1v3h-1zM823 218h1v2h-1zM824 215h1v3h-1zM825 212h1v3h-1zM826 209h1v3h-1zM827 206h1v3h-1zM828 203h1v3h-1zM829 200h1v3h-1zM830 197h1v3h-1zM831 195h1v2h-1zM832 192h1v3h-1zM833 189h1v3h-1zM834 186h1v3h-1zM835 183h1v3h-1zM836 181h1v2h-1zM837 179h1v2h-1zM838 177h1v2h-1zM839 174h1v3h-1zM840 172h1v2h-1zM841 170h1v2h-1zM842 168h1v2h-1zM843 166h1v2h-1zM844 164h1v2h-1zM845 163h1v1h-1zM846 161h1v2h-1zM847 160h1v1h-1zM848 158h1v2h-1zM849 156h1v2h-1zM850 155h1v1h-1zM851 153h1v2h-1zM852 152h1v1h-1zM853 150h1v2h-1zM854 148h1v2h-1zM855 146h1v2h-1zM856 144h1v2h-1zM857 142h1v2h-1zM858 140h1v2h-1zM859 138h1v2h-1zM860 136h1v2h-1zM861 135h1v1h-1zM862 134h1v1h-1zM863 132h1v2h-1zM864 131h1v1h-1zM865 130h1v1h-1zM866 128h1v2h-1zM867 127h1v1h-1zM868 126h1v1h-1zM869 124h1v2h-1zM870 123h1v1h-1zM871 122h1v1h-1zM872 121h1v1h-1zM873 119h1v2h-1zM874 118h1v1h-1zM973 105h1v1h-1zM974 106h1v1h-1zM977 108h1v1h-1zM978 109h1v1h-1zM979 110h1v1h-1zM986 114h1v1h-1zM987 115h1v1h-1zM988 116h1v1h-1zM989 117h1v1h-1zM990 118h1v1h-1zM991 119h1v1h-1zM992 120h1v1h-1zM993 121h1v1h-1zM996 123h1v1h-1zM997 124h1v1h-1zM1000 126h1v1h-1zM1003 128h1v1h-1zM1004 129h1v1h-1zM1005 130h1v1h-1zM1006 131h1v1h-1zM1009 133h1v1h-1zM1010 134h1v1h-1zM1011 135h1v1h-1zM1020 140h1v1h-1zM1027 144h1v1h-1zM1028 145h1v2h-1zM1029 147h1v1h-1zM1030 148h1v1h-1zM1031 149h1v2h-1zM1032 151h1v1h-1zM1033 152h1v2h-1zM1034 154h1v1h-1zM1035 155h1v1h-1zM1036 156h1v1h-1zM1037 157h1v1h-1zM1038 158h1v1h-1zM1039 159h1v2h-1zM1040 161h1v1h-1zM1041 162h1v1h-1zM1042 163h1v1h-1zM1043 164h1v1h-1zM1044 165h1v1h-1zM1045 166h1v1h-1zM1046 167h1v1h-1zM1049 169h1v1h-1zM1050 170h1v1h-1zM1051 171h1v1h-1zM1052 172h1v1h-1zM1055 174h1v1h-1zM1056 175h1v1h-1zM1059 177h1v1h-1zM1060 178h1v1h-1zM1061 179h1v1h-1zM1062 180h1v1h-1zM1065 182h1v1h-1zM1066 183h1v1h-1zM1067 184h1v1h-1zM1070 186h1v1h-1zM1071 187h1v1h-1zM1074 189h1v1h-1zM1075 190h1v1h-1z"/>
<path fill="#ffff00" d="M960 107h8v1h-8zM954 108h6v1h-6zM968 108h6v1h-6zM950 109h4v1h-4zM974 109h2v1h-2zM946 110h4v1h-4zM976 110h2v1h-2zM942 111h4v1h-4zM978 111h3v1h-3zM932 112h10v1h-10zM981 112h2v1h-2zM983 113h2v1h-2zM985 114h2v1h-2zM987 115h2v1h-2zM927 116h2v1h-2zM992 119h2v1h-2zM997 123h2v1h-2zM999 124h2v1h-2zM1001 125h2v1h-2zM1003 126h3v1h-3zM1006 127h3v1h-3zM1009 128h3v1h-3zM1012 129h5v1h-5zM1017 130h5v1h-5zM1022 131h2v1h-2zM1024 132h3v1h-3zM1027 133h2v1h-2zM1029 134h2v1h-2zM1032 136h2v1h-2zM1034 137h2v1h-2zM1037 139h2v1h-2zM1040 141h2v1h-2zM1042 142h2v1h-2zM1045 144h2v1h-2zM1048 146h2v1h-2zM1051 148h2v1h-2zM1054 150h2v1h-2zM1056 151h2v1h-2zM1058 152h2v1h-2zM1060 153h3v1h-3zM1063 154h2v1h-2zM1065 155h2v1h-2zM1067 156h2v1h-2zM1069 157h2v1h-2zM1071 158h2v1h-2zM1073 159h2v1h-2zM1075 160h3v1h-3zM1078 161h2v1h-2zM1080 162h2v1h-2zM1082 163h2v1h-2zM1084 164h2v1h-2zM1086 165h2v1h-2zM1088 166h2v1h-2zM1090 167h2v1h-2zM1092 168h2v1h-2zM1094 169h2v1h-2zM4 170h2v1h-2zM1096 170h2v1h-2zM6 171h2v1h-2zM1098 171h2v1h-2zM8 172h2v1h-2zM1100 172h2v1h-2zM1102 173h2v1h-2zM1104 174h2v1h-2zM12 175h2v1h-2zM1106 175h2v1h-2zM1108 176h2v1h-2zM39 177h9v1h-9zM1110 177h2v1h-2zM33 178h6v1h-6zM48 178h6v1h-6zM1112 178h2v1h-2zM17 179h2v1h-2zM29 179h4v1h-4zM54 179h2v1h-2zM24 180h5v1h-5zM56 180h3v1h-3zM1115 180h2v1h-2zM20 181h4v1h-4zM59 181h2v1h-2zM1117 181h2v1h-2zM61 182h2v1h-2zM1119 182h2v1h-2zM63 183h2v1h-2zM1121 183h2v1h-2zM65 184h2v1h-2zM1123 184h2v1h-2zM1125 185h2v1h-2zM1128 187h2v1h-2zM1226 187h2v1h-2zM1222 188h4v1h-4zM1219 189h3v1h-3zM1132 190h2v1h-2zM1216 190h3v1h-3zM1134 191h2v1h-2zM1211 191h5v1h-5zM1136 192h3v1h-3zM1206 192h5v1h-5zM1139 193h5v1h-5zM1170 193h22v1h-22zM1199 193h7v1h-7zM76 194h2v1h-2zM1144 194h5v1h-5zM1163 194h7v1h-7zM1192 194h7v1h-7zM1149 195h3v1h-3zM1157 195h6v1h-6zM1152 196h5v1h-5zM83 200h2v1h-2zM147 277h2v1h-2zM224 372h2v1h-2zM228 375h2v1h-2zM281 376h8v1h-8zM274 377h7v1h-7zM289 377h7v1h-7zM232 378h2v1h-2zM264 378h10v1h-10zM296 378h4v1h-4zM258 379h6v1h-6zM300 379h2v1h-2zM235 380h3v1h-3zM256 380h2v1h-2zM302 380h2v1h-2zM238 381h4v1h-4zM254 381h2v1h-2zM304 381h2v1h-2zM242 382h12v1h-12zM309 385h2v1h-2zM316 391h2v1h-2zM330 404h2v1h-2zM334 407h2v1h-2zM338 410h2v1h-2zM342 413h2v1h-2zM346 416h2v1h-2zM350 419h2v1h-2zM353 421h2v1h-2zM355 422h4v1h-4zM370 422h3v1h-3zM359 423h3v1h-3zM366 423h4v1h-4zM373 423h2v1h-2zM362 424h4v1h-4zM375 424h2v1h-2zM377 425h2v1h-2zM380 427h2v1h-2zM384 430h2v1h-2zM387 432h2v1h-2zM389 433h2v1h-2zM392 435h2v1h-2zM394 436h2v1h-2zM396 437h2v1h-2zM398 438h3v1h-3zM401 439h3v1h-3zM404 440h2v1h-2zM406 441h2v1h-2zM408 442h2v1h-2zM410 443h2v1h-2zM412 444h2v1h-2zM414 445h2v1h-2zM416 446h2v1h-2zM418 447h2v1h-2zM739 448h2v1h-2zM732 454h2v1h-2zM429 459h2v1h-2zM726 459h2v1h-2zM432 461h2v1h-2zM723 461h2v1h-2zM434 462h2v1h-2zM720 462h3v1h-3zM717 463h3v1h-3zM437 464h2v1h-2zM711 464h6v1h-6zM439 465h2v1h-2zM703 465h8v1h-8zM441 466h2v1h-2zM695 466h8v1h-8zM443 467h2v1h-2zM552 467h8v1h-8zM687 467h8v1h-8zM545 468h7v1h-7zM560 468h7v1h-7zM673 468h14v1h-14zM446 469h2v1h-2zM541 469h4v1h-4zM567 469h8v1h-8zM600 469h7v1h-7zM669 469h4v1h-4zM535 470h6v1h-6zM575 470h25v1h-25zM607 470h8v1h-8zM665 470h4v1h-4zM449 471h2v1h-2zM527 471h8v1h-8zM615 471h8v1h-8zM661 471h4v1h-4zM451 472h2v1h-2zM522 472h5v1h-5zM623 472h6v1h-6zM648 472h13v1h-13zM520 473h2v1h-2zM629 473h4v1h-4zM639 473h9v1h-9zM454 474h2v1h-2zM518 474h2v1h-2zM633 474h6v1h-6zM516 475h2v1h-2zM457 476h2v1h-2zM514 476h2v1h-2zM459 477h2v1h-2zM512 477h2v1h-2zM461 478h2v1h-2zM510 478h2v1h-2zM463 479h2v1h-2zM508 479h2v1h-2zM465 480h2v1h-2zM467 481h2v1h-2zM505 481h2v1h-2zM469 482h2v1h-2zM503 482h2v1h-2zM471 483h2v1h-2zM501 483h2v1h-2zM473 484h2v1h-2zM498 484h3v1h-3zM475 485h9v1h-9zM494 485h4v1h-4zM484 486h10v1h-10zM3 169h1v1h-1zM10 173h1v1h-1zM11 174h1v1h-1zM14 176h1v1h-1zM15 177h1v1h-1zM16 178h1v1h-1zM19 180h1v1h-1zM67 185h1v1h-1zM68 186h1v1h-1zM69 187h1v1h-1zM70 188h1v1h-1zM71 189h1v1h-1zM72 190h1v1h-1zM73 191h1v1h-1zM74 192h1v1h-1zM75 193h1v1h-1zM78 195h1v1h-1zM79 196h1v1h-1zM80 197h1v1h-1zM81 198h1v1h-1zM82 199h1v1h-1zM85 201h1v1h-1zM86 202h1v1h-1zM87 203h1v1h-1zM88 204h1v2h-1zM89 206h1v2h-1zM90 208h1v1h-1zM91 209h1v2h-1zM92 211h1v2h-1zM93 213h1v1h-1zM94 214h1v2h-1zM95 216h1v1h-1zM96 217h1v1h-1zM97 218h1v2h-1zM98 220h1v1h-1zM99 221h1v2h-1zM100 223h1v1h-1zM101 224h1v1h-1zM102 225h1v2h-1zM103 227h1v1h-1zM104 228h1v1h-1zM105 229h1v2h-1zM106 231h1v1h-1zM107 232h1v1h-1zM108 233h1v2h-1zM109 235h1v1h-1zM110 236h1v1h-1zM111 237h1v2h-1zM112 239h1v1h-1zM113 240h1v1h-1zM114 241h1v1h-1zM115 242h1v2h-1zM116 244h1v1h-1zM117 245h1v1h-1zM118 246h1v2h-1zM119 248h1v1h-1zM120 249h1v1h-1zM121 250h1v2h-1zM122 252h1v1h-1zM123 253h1v1h-1zM124 254h1v1h-1zM125 255h1v1h-1zM126 256h1v1h-1zM127 257h1v1h-1zM128 258h1v1h-1zM129 259h1v1h-1zM130 260h1v1h-1zM131 261h1v1h-1zM132 262h1v1h-1zM133 263h1v1h-1zM134 264h1v1h-1zM135 265h1v1h-1zM136 266h1v1h-1zM137 267h1v1h-1zM138 268h1v1h-1zM139 269h1v1h-1zM140 270h1v1h-1zM141 271h1v1h-1zM142 272h1v1h-1zM143 273h1v1h-1zM144 274h1v1h-1zM145 275h1v1h-1zM146 276h1v1h-1zM149 278h1v1h-1zM150 279h1v1h-1zM151 280h1v1h-1zM152 281h1v1h-1zM153 282h1v1h-1zM154 283h1v1h-1zM155 284h1v1h-1zM156 285h1v2h-1zM157 287h1v1h-1zM158 288h1v1h-1zM159 289h1v1h-1zM160 290h1v1h-1zM161 291h1v1h-1zM162 292h1v1h-1zM163 293h1v1h-1zM164 294h1v1h-1zM165 295h1v1h-1zM166 296h1v1h-1zM167 297h1v1h-1zM168 298h1v1h-1zM169 299h1v2h-1zM170 301h1v1h-1zM171 302h1v1h-1zM172 303h1v2h-1zM173 305h1v1h-1zM174 306h1v1h-1zM175 307h1v2h-1zM176 309h1v1h-1zM177 310h1v1h-1zM178 311h1v1h-1zM179 312h1v1h-1zM180 313h1v2h-1zM181 315h1v1h-1zM182 316h1v1h-1zM183 317h1v1h-1zM184 318h1v1h-1zM185 319h1v1h-1zM186 320h1v2h-1zM187 322h1v1h-1zM188 323h1v1h-1zM189 324h1v1h-1zM190 325h1v2h-1zM191 327h1v2h-1zM192 329h1v2h-1zM193 331h1v1h-1zM194 332h1v2h-1zM195 334h1v2h-1zM196 336h1v2h-1zM197 338h1v1h-1zM198 339h1v2h-1zM199 341h1v2h-1zM200 343h1v2h-1zM201 345h1v1h-1zM202 346h1v2h-1zM203 348h1v2h-1zM204 350h1v2h-1zM205 352h1v1h-1zM206 353h1v1h-1zM207 354h1v1h-1zM208 355h1v1h-1zM209 356h1v1h-1zM210 357h1v2h-1zM211 359h1v1h-1zM212 360h1v1h-1zM213 361h1v1h-1zM214 362h1v1h-1zM215 363h1v1h-1zM216 364h1v1h-1zM217 365h1v1h-1zM218 366h1v1h-1zM219 367h1v1h-1zM220 368h1v1h-1zM221 369h1v1h-1zM222 370h1v1h-1zM223 371h1v1h-1zM226 373h1v1h-1zM227 374h1v1h-1zM230 376h1v1h-1zM231 377h1v1h-1zM234 379h1v1h-1zM306 382h1v1h-1zM307 383h1v1h-1zM308 384h1v1h-1zM311 386h1v1h-1zM312 387h1v1h-1zM313 388h1v1h-1zM314 389h1v1h-1zM315 390h1v1h-1zM318 392h1v1h-1zM319 393h1v1h-1zM320 394h1v1h-1zM321 395h1v1h-1zM322 396h1v1h-1zM323 397h1v1h-1zM324 398h1v1h-1zM325 399h1v1h-1zM326 400h1v1h-1zM327 401h1v1h-1zM328 402h1v1h-1zM329 403h1v1h-1zM332 405h1v1h-1zM333 406h1v1h-1zM336 408h1v1h-1zM337 409h1v1h-1zM340 411h1v1h-1zM341 412h1v1h-1zM344 414h1v1h-1zM345 415h1v1h-1zM348 417h1v1h-1zM349 418h1v1h-1zM352 420h1v1h-1zM379 426h1v1h-1zM382 428h1v1h-1zM383 429h1v1h-1zM386 431h1v1h-1zM391 434h1v1h-1zM420 448h1v1h-1zM421 449h1v1h-1zM422 450h1v2h-1zM423 452h1v1h-1zM424 453h1v1h-1zM425 454h1v1h-1zM426 455h1v2h-1zM427 457h1v1h-1zM428 458h1v1h-1zM431 460h1v1h-1zM436 463h1v1h-1zM445 468h1v1h-1zM448 470h1v1h-1zM453 473h1v1h-1zM456 475h1v1h-1zM507 480h1v1h-1zM725 460h1v1h-1zM728 458h1v1h-1zM729 457h1v1h-1zM730 456h1v1h-1zM731 455h1v1h-1zM734 453h1v1h-1zM735 452h1v1h-1zM736 451h1v1h-1zM737 450h1v1h-1zM738 449h1v1h-1zM741 447h1v1h-1zM742 446h1v1h-1zM743 445h1v1h-1zM744 444h1v1h-1zM745 443h1v1h-1zM746 442h1v1h-1zM747 441h1v1h-1zM748 440h1v1h-1zM749 439h1v1h-1zM750 437h1v2h-1zM751 436h1v1h-1zM752 435h1v1h-1zM753 434h1v1h-1zM754 433h1v1h-1zM755 432h1v1h-1zM756 430h1v2h-1zM757 429h1v1h-1zM758 428h1v1h-1zM759 426h1v2h-1zM760 425h1v1h-1zM761 423h1v2h-1zM762 422h1v1h-1zM763 421h1v1h-1zM764 419h1v2h-1zM765 418h1v1h-1zM766 416h1v2h-1zM767 414h1v2h-1zM768 412h1v2h-1zM769 410h1v2h-1zM770 408h1v2h-1zM771 406h1v2h-1zM772 404h1v2h-1zM773 402h1v2h-1zM774 400h1v2h-1zM775 398h1v2h-1zM776 396h1v2h-1zM777 394h1v2h-1zM778 392h1v2h-1zM779 390h1v2h-1zM780 388h1v2h-1zM781 386h1v2h-1zM782 384h1v2h-1zM783 382h1v2h-1zM784 380h1v2h-1zM785 378h1v2h-1zM786 376h1v2h-1zM787 374h1v2h-1zM788 371h1v3h-1zM789 369h1v2h-1zM790 367h1v2h-1zM791 364h1v3h-1zM792 362h1v2h-1zM793 359h1v3h-1zM794 357h1v2h-1zM795 355h1v2h-1zM796 352h1v3h-1zM797 350h1v2h-1zM798 348h1v2h-1zM799 346h1v2h-1zM800 343h1v3h-1zM801 341h1v2h-1zM802 339h1v2h-1zM803 336h1v3h-1zM804 334h1v2h-1zM805 331h1v3h-1zM806 329h1v2h-1zM807 326h1v3h-1zM808 323h1v3h-1zM809 321h1v2h-1zM810 318h1v3h-1zM811 316h1v2h-1zM812 313h1v3h-1zM813 311h1v2h-1zM814 308h1v3h-1zM815 306h1v2h-1zM816 303h1v3h-1zM817 301h1v2h-1zM818 299h1v2h-1zM819 296h1v3h-1zM820 294h1v2h-1zM821 291h1v3h-1zM822 289h1v2h-1zM823 287h1v2h-1zM824 285h1v2h-1zM825 283h1v2h-1zM826 281h1v2h-1zM827 279h1v2h-1zM828 277h1v2h-1zM829 275h1v2h-1zM830 273h1v2h-1zM831 271h1v2h-1zM832 269h1v2h-1zM833 267h1v2h-1zM834 265h1v2h-1zM835 263h1v2h-1zM836 262h1v1h-1zM837 260h1v2h-1zM838 258h1v2h-1zM839 256h1v2h-1zM840 255h1v1h-1zM841 253h1v2h-1zM842 251h1v2h-1zM843 250h1v1h-1zM844 248h1v2h-1zM845 246h1v2h-1zM846 244h1v2h-1zM847 243h1v1h-1zM848 241h1v2h-1zM849 239h1v2h-1zM850 237h1v2h-1zM851 235h1v2h-1zM852 233h1v2h-1zM853 231h1v2h-1zM854 229h1v2h-1zM855 227h1v2h-1zM856 225h1v2h-1zM857 223h1v2h-1zM858 222h1v1h-1zM859 220h1v2h-1zM860 218h1v2h-1zM861 217h1v1h-1zM862 215h1v2h-1zM863 214h1v1h-1zM864 212h1v2h-1zM865 210h1v2h-1zM866 209h1v1h-1zM867 207h1v2h-1zM868 205h1v2h-1zM869 204h1v1h-1zM870 202h1v2h-1zM871 200h1v2h-1zM872 198h1v2h-1zM873 196h1v2h-1zM874 194h1v2h-1zM875 192h1v2h-1zM876 190h1v2h-1zM877 188h1v2h-1zM878 186h1v2h-1zM879 184h1v2h-1zM880 182h1v2h-1zM881 180h1v2h-1zM882 178h1v2h-1zM883 176h1v2h-1zM884 174h1v2h-1zM885 172h1v2h-1zM886 170h1v2h-1zM887 168h1v2h-1zM888 166h1v2h-1zM889 164h1v2h-1zM890 162h1v2h-1zM891 160h1v2h-1zM892 158h1v2h-1zM893 157h1v1h-1zM894 155h1v2h-1zM895 154h1v1h-1zM896 153h1v1h-1zM897 151h1v2h-1zM898 150h1v1h-1zM899 148h1v2h-1zM900 147h1v1h-1zM901 146h1v1h-1zM902 145h1v1h-1zM903 144h1v1h-1zM904 142h1v2h-1zM905 141h1v1h-1zM906 140h1v1h-1zM907 139h1v1h-1zM908 138h1v1h-1zM909 136h1v2h-1zM910 135h1v1h-1zM911 134h1v1h-1zM912 133h1v1h-1zM913 131h1v2h-1zM914 130h1v1h-1zM915 129h1v1h-1zM916 128h1v1h-1zM917 127h1v1h-1zM918 126h1v1h-1zM919 124h1v2h-1zM920 123h1v1h-1zM921 122h1v1h-1zM922 121h1v1h-1zM923 120h1v1h-1zM924 119h1v1h-1zM925 118h1v1h-1zM926 117h1v1h-1zM929 115h1v1h-1zM930 114h1v1h-1zM931 113h1v1h-1zM989 116h1v1h-1zM990 117h1v1h-1zM991 118h1v1h-1zM994 120h1v1h-1zM995 121h1v1h-1zM996 122h1v1h-1zM1031 135h1v1h-1zM1036 138h1v1h-1zM1039 140h1v1h-1zM1044 143h1v1h-1zM1047 145h1v1h-1zM1050 147h1v1h-1zM1053 149h1v1h-1zM1114 179h1v1h-1zM1127 186h1v1h-1zM1130 188h1v1h-1zM1131 189h1v1h-1z"/>
<rect x="3" y="51" width="1417" height="3" fill="#ff0000"/>
<rect x="3" y="153" width="1417" height="3" fill="#00ff00"/>
<rect x="3" y="290" width="1417" height="3" fill="#0000ff"/>
<rect x="3" y="398" width="1417" height="3" fill="#0000ff"/>
<path fill="#c0c0c0" d="M1129 26h9l-4.5 5z"/>
<path fill="#c0c0c0" d="M3 628h1V635h-1zM11 628h1V635h-1zM19 628h1V635h-1zM27 628h1V637h-1zM35 628h1V637h-1zM43 628h1V637h-1zM51 628h1V637h-1zM59 628h1V639h-1zM67 628h1V641h-1zM75 628h1V645h-1zM83 628h1V650h-1zM91 628h1V655h-1zM99 628h1V660h-1zM107 628h1V662h-1zM115 628h1V663h-1zM123 628h1V664h-1zM131 628h1V660h-1zM139 628h1V658h-1zM147 628h1V655h-1zM155 628h1V653h-1zM163 628h1V652h-1zM171 628h1V655h-1zM179 628h1V657h-1zM187 628h1V658h-1zM195 628h1V660h-1zM203 628h1V664h-1zM211 628h1V660h-1zM219 628h1V657h-1zM227 628h1V655h-1zM235 628h1V652h-1zM243 628h1V648h-1zM251 628h1V645h-1zM259 628h1V641h-1zM267 628h1V641h-1zM275 628h1V639h-1zM283 628h1V637h-1zM291 628h1V637h-1zM299 628h1V637h-1zM307 628h1V639h-1zM315 628h1V642h-1zM323 628h1V645h-1zM331 628h1V647h-1zM339 628h1V651h-1zM347 628h1V653h-1zM355 628h1V655h-1zM363 628h1V655h-1zM371 628h1V654h-1zM379 628h1V652h-1zM387 628h1V652h-1zM395 628h1V650h-1zM403 628h1V647h-1zM411 628h1V645h-1zM419 628h1V642h-1zM427 628h1V642h-1zM435 628h1V642h-1zM443 628h1V640h-1zM451 628h1V640h-1zM459 628h1V639h-1zM467 628h1V638h-1zM475 628h1V640h-1zM483 628h1V640h-1zM491 628h1V638h-1zM499 628h1V637h-1zM507 628h1V635h-1zM515 628h1V633h-1zM523 628h1V632h-1zM531 628h1V630h-1zM539 628h1V630h-1zM547 628h1V630h-1zM555 628h1V630h-1zM563 628h1V631h-1zM571 628h1V632h-1zM579 628h1V631h-1zM587 628h1V631h-1zM595 628h1V630h-1zM603 628h1V630h-1zM611 628h1V631h-1zM619 628h1V632h-1zM627 628h1V632h-1zM635 628h1V634h-1zM643 628h1V634h-1zM651 628h1V634h-1zM659 628h1V632h-1zM667 628h1V630h-1zM683 627h1V629h-1zM691 625h1V629h-1zM699 625h1V629h-1zM707 625h1V629h-1zM715 624h1V629h-1zM723 623h1V629h-1zM731 619h1V629h-1zM739 616h1V629h-1zM747 612h1V629h-1zM755 607h1V629h-1zM763 602h1V629h-1zM771 594h1V629h-1zM779 588h1V629h-1zM787 584h1V629h-1zM795 579h1V629h-1zM803 575h1V629h-1zM811 574h1V629h-1zM819 573h1V629h-1zM827 573h1V629h-1zM835 574h1V629h-1zM843 578h1V629h-1zM851 580h1V629h-1zM859 582h1V629h-1zM867 583h1V629h-1zM875 584h1V629h-1zM883 586h1V629h-1zM891 589h1V629h-1zM899 591h1V629h-1zM907 593h1V629h-1zM915 595h1V629h-1zM923 596h1V629h-1zM931 596h1V629h-1zM939 599h1V629h-1zM947 601h1V629h-1zM955 603h1V629h-1zM963 604h1V629h-1zM971 606h1V629h-1zM979 610h1V629h-1zM987 614h1V629h-1zM995 620h1V629h-1zM1003 624h1V629h-1zM1011 627h1V629h-1zM1035 628h1V630h-1zM1043 628h1V631h-1zM1051 628h1V633h-1zM1059 628h1V632h-1zM1067 628h1V633h-1zM1075 628h1V633h-1zM1083 628h1V631h-1zM1091 628h1V631h-1zM1099 628h1V630h-1zM1107 628h1V631h-1zM1115 628h1V631h-1zM1123 628h1V631h-1zM1131 628h1V633h-1zM1139 628h1V631h-1zM1147 628h1V630h-1zM1155 628h1V631h-1zM1163 628h1V631h-1zM1171 628h1V631h-1zM1179 628h1V630h-1zM1187 628h1V631h-1zM1195 628h1V631h-1zM1203 628h1V631h-1zM1211 628h1V629h-1z"/>
<path fill="#ff0000" d="M850 576h2v1h-2zM855 576h3v1h-3zM861 576h3v1h-3zM867 576h2v1h-2zM843 577h3v1h-3zM873 577h3v1h-3zM838 578h2v1h-2zM879 578h3v1h-3zM885 579h3v1h-3zM832 580h2v1h-2zM891 580h2v1h-2zM897 582h3v1h-3zM825 583h2v1h-2zM904 584h2v1h-2zM820 585h2v1h-2zM909 585h3v1h-3zM915 586h3v1h-3zM921 587h2v1h-2zM813 589h2v1h-2zM928 589h2v1h-2zM933 590h3v1h-3zM939 591h3v1h-3zM808 592h2v1h-2zM945 593h3v1h-3zM951 594h2v1h-2zM802 595h2v1h-2zM958 596h2v1h-2zM963 597h3v1h-3zM796 598h2v1h-2zM969 598h3v1h-3zM976 600h2v1h-2zM981 601h2v1h-2zM790 602h2v1h-2zM987 603h3v1h-3zM993 605h2v1h-2zM783 607h2v1h-2zM1000 608h2v1h-2zM1005 609h2v1h-2zM778 610h2v1h-2zM1012 612h2v1h-2zM772 613h2v1h-2zM1017 614h2v1h-2zM765 616h2v1h-2zM1023 616h2v1h-2zM760 617h2v1h-2zM1029 618h3v1h-3zM754 619h2v1h-2zM747 621h3v1h-3zM1036 621h2v1h-2zM742 622h2v1h-2zM735 624h3v1h-3zM1042 624h2v1h-2zM729 625h3v1h-3zM1048 625h2v1h-2zM1053 625h2v1h-2zM723 626h3v1h-3zM717 627h3v1h-3zM705 628h3v1h-3zM711 628h3v1h-3zM1059 628h3v1h-3zM699 629h3v1h-3zM687 630h3v1h-3zM693 630h2v1h-2zM1066 630h2v1h-2zM1071 630h3v1h-3zM1077 630h3v1h-3zM1215 630h3v1h-3zM1221 630h3v1h-3zM580 631h2v1h-2zM585 631h3v1h-3zM591 631h3v1h-3zM597 631h3v1h-3zM603 631h3v1h-3zM609 631h3v1h-3zM615 631h3v1h-3zM621 631h3v1h-3zM627 631h3v1h-3zM633 631h3v1h-3zM675 631h3v1h-3zM681 631h3v1h-3zM1137 631h3v1h-3zM1143 631h3v1h-3zM1149 631h3v1h-3zM1155 631h3v1h-3zM1161 631h3v1h-3zM1167 631h3v1h-3zM1173 631h3v1h-3zM1179 631h3v1h-3zM1185 631h3v1h-3zM1191 631h3v1h-3zM1197 631h3v1h-3zM1203 631h3v1h-3zM1209 631h3v1h-3zM561 632h3v1h-3zM567 632h3v1h-3zM573 632h3v1h-3zM639 632h3v1h-3zM645 632h3v1h-3zM651 632h3v1h-3zM657 632h3v1h-3zM663 632h3v1h-3zM669 632h3v1h-3zM1084 632h2v1h-2zM1089 632h3v1h-3zM1095 632h3v1h-3zM1101 632h3v1h-3zM1107 632h3v1h-3zM1113 632h3v1h-3zM1119 632h3v1h-3zM1125 632h3v1h-3zM1131 632h3v1h-3zM555 633h3v1h-3zM543 634h3v1h-3zM549 634h3v1h-3zM15 635h3v1h-3zM21 635h3v1h-3zM27 635h2v1h-2zM537 635h3v1h-3zM3 636h3v1h-3zM9 636h3v1h-3zM33 636h3v1h-3zM531 636h2v1h-2zM39 637h3v1h-3zM45 637h3v1h-3zM51 637h3v1h-3zM57 637h3v1h-3zM525 637h3v1h-3zM63 638h3v1h-3zM69 638h2v1h-2zM514 638h2v1h-2zM519 638h3v1h-3zM75 639h3v1h-3zM507 639h3v1h-3zM489 640h3v1h-3zM495 640h3v1h-3zM501 640h3v1h-3zM82 641h2v1h-2zM309 641h3v1h-3zM315 641h3v1h-3zM321 641h3v1h-3zM327 641h3v1h-3zM472 641h2v1h-2zM477 641h3v1h-3zM483 641h3v1h-3zM87 642h3v1h-3zM303 642h3v1h-3zM333 642h3v1h-3zM339 642h3v1h-3zM465 642h3v1h-3zM298 643h2v1h-2zM459 643h3v1h-3zM94 644h2v1h-2zM345 644h3v1h-3zM453 644h3v1h-3zM99 645h3v1h-3zM291 645h3v1h-3zM351 645h2v1h-2zM447 645h3v1h-3zM441 646h3v1h-3zM105 647h2v1h-2zM285 647h2v1h-2zM357 647h3v1h-3zM280 648h2v1h-2zM363 648h2v1h-2zM435 648h2v1h-2zM429 649h3v1h-3zM112 650h2v1h-2zM273 650h3v1h-3zM369 650h3v1h-3zM423 650h3v1h-3zM375 651h3v1h-3zM417 651h3v1h-3zM118 652h2v1h-2zM267 652h2v1h-2zM381 652h3v1h-3zM411 652h3v1h-3zM261 653h3v1h-3zM388 653h2v1h-2zM393 653h3v1h-3zM399 653h3v1h-3zM405 653h3v1h-3zM124 654h2v1h-2zM255 655h2v1h-2zM129 656h3v1h-3zM249 656h3v1h-3zM135 657h3v1h-3zM189 657h3v1h-3zM195 657h3v1h-3zM201 657h3v1h-3zM207 657h3v1h-3zM243 657h3v1h-3zM141 658h3v1h-3zM171 658h3v1h-3zM177 658h3v1h-3zM183 658h3v1h-3zM213 658h3v1h-3zM219 658h3v1h-3zM225 658h3v1h-3zM231 658h3v1h-3zM237 658h3v1h-3zM147 659h3v1h-3zM153 659h3v1h-3zM159 659h3v1h-3zM165 659h3v1h-3zM29 636h1v1h-1zM71 639h1v1h-1zM81 640h1v1h-1zM93 643h1v1h-1zM107 648h1v1h-1zM111 649h1v1h-1zM117 651h1v1h-1zM123 653h1v1h-1zM257 654h1v1h-1zM269 651h1v1h-1zM279 649h1v1h-1zM287 646h1v1h-1zM297 644h1v1h-1zM353 646h1v1h-1zM365 649h1v1h-1zM387 652h1v1h-1zM437 647h1v1h-1zM471 642h1v1h-1zM513 639h1v1h-1zM533 635h1v1h-1zM579 632h1v1h-1zM695 629h1v1h-1zM741 623h1v1h-1zM753 620h1v1h-1zM759 618h1v1h-1zM767 615h1v1h-1zM771 614h1v1h-1zM777 611h1v1h-1zM785 606h1v1h-1zM789 603h1v1h-1zM795 599h1v1h-1zM801 596h1v1h-1zM807 593h1v1h-1zM815 588h1v1h-1zM819 586h1v1h-1zM827 582h1v1h-1zM831 581h1v1h-1zM837 579h1v1h-1zM849 577h1v1h-1zM869 577h1v1h-1zM893 581h1v1h-1zM903 583h1v1h-1zM923 588h1v1h-1zM927 588h1v1h-1zM953 595h1v1h-1zM957 595h1v1h-1zM975 599h1v1h-1zM983 602h1v1h-1zM995 606h1v1h-1zM999 607h1v1h-1zM1007 610h1v1h-1zM1011 611h1v1h-1zM1019 615h1v1h-1zM1025 617h1v1h-1zM1035 620h1v1h-1zM1041 623h1v1h-1zM1047 624h1v1h-1zM1055 626h1v1h-1zM1065 629h1v1h-1zM1083 631h1v1h-1z"/>
<path stroke="#c0c0c0" stroke-width="1" stroke-dasharray="3 3" fill="none" d="M4 711.5H1418M4 762.5H1418"/>
<path fill="#1e90ff" d="M772 695h2v1h-2zM799 695h5v1h-5zM794 696h5v1h-5zM804 696h2v1h-2zM775 697h2v1h-2zM791 697h3v1h-3zM806 697h2v1h-2zM777 698h2v1h-2zM789 698h2v1h-2zM808 698h2v1h-2zM779 699h10v1h-10zM810 699h2v1h-2zM812 700h2v1h-2zM814 701h2v1h-2zM825 701h3v1h-3zM816 702h2v1h-2zM821 702h4v1h-4zM828 702h2v1h-2zM759 703h5v1h-5zM818 703h3v1h-3zM755 704h4v1h-4zM831 704h2v1h-2zM833 705h2v1h-2zM751 707h2v1h-2zM837 708h2v1h-2zM873 708h4v1h-4zM869 709h4v1h-4zM877 709h4v1h-4zM865 710h4v1h-4zM881 710h3v1h-3zM745 711h3v1h-3zM841 711h2v1h-2zM861 711h4v1h-4zM922 711h10v1h-10zM741 712h4v1h-4zM843 712h2v1h-2zM857 712h4v1h-4zM920 712h2v1h-2zM737 713h4v1h-4zM845 713h4v1h-4zM853 713h4v1h-4zM918 713h2v1h-2zM733 714h4v1h-4zM849 714h4v1h-4zM916 714h2v1h-2zM731 715h2v1h-2zM905 715h11v1h-11zM901 716h4v1h-4zM895 717h6v1h-6zM891 718h4v1h-4zM959 719h6v1h-6zM951 720h8v1h-8zM965 720h4v1h-4zM943 721h8v1h-8zM969 721h3v1h-3zM939 722h4v1h-4zM674 725h2v1h-2zM672 726h2v1h-2zM676 726h2v1h-2zM670 727h2v1h-2zM678 727h2v1h-2zM716 727h2v1h-2zM668 728h2v1h-2zM680 728h2v1h-2zM666 729h2v1h-2zM682 729h18v1h-18zM719 729h2v1h-2zM663 730h3v1h-3zM700 730h2v1h-2zM721 730h2v1h-2zM1211 730h2v1h-2zM661 731h2v1h-2zM1213 731h4v1h-4zM1223 731h5v1h-5zM515 732h9v1h-9zM659 732h2v1h-2zM703 732h2v1h-2zM1217 732h6v1h-6zM513 733h2v1h-2zM657 733h2v1h-2zM705 733h2v1h-2zM1083 733h2v1h-2zM1207 733h2v1h-2zM258 734h2v1h-2zM511 734h2v1h-2zM655 734h2v1h-2zM1085 734h2v1h-2zM256 735h2v1h-2zM601 735h2v1h-2zM1087 735h3v1h-3zM1095 735h5v1h-5zM254 736h2v1h-2zM508 736h2v1h-2zM527 736h2v1h-2zM546 736h2v1h-2zM599 736h2v1h-2zM652 736h2v1h-2zM1090 736h5v1h-5zM1175 736h5v1h-5zM252 737h2v1h-2zM489 737h2v1h-2zM492 737h2v1h-2zM506 737h2v1h-2zM543 737h3v1h-3zM548 737h2v1h-2zM650 737h2v1h-2zM1163 737h12v1h-12zM247 738h5v1h-5zM274 738h5v1h-5zM403 738h4v1h-4zM504 738h2v1h-2zM541 738h2v1h-2zM596 738h2v1h-2zM648 738h2v1h-2zM1138 738h3v1h-3zM1161 738h2v1h-2zM1181 738h2v1h-2zM241 739h6v1h-6zM272 739h2v1h-2zM279 739h6v1h-6zM407 739h13v1h-13zM495 739h2v1h-2zM502 739h2v1h-2zM531 739h10v1h-10zM551 739h2v1h-2zM579 739h17v1h-17zM646 739h2v1h-2zM1059 739h9v1h-9zM1121 739h4v1h-4zM1136 739h2v1h-2zM1141 739h4v1h-4zM1159 739h2v1h-2zM237 740h4v1h-4zM270 740h2v1h-2zM285 740h4v1h-4zM443 740h2v1h-2zM458 740h5v1h-5zM485 740h2v1h-2zM497 740h2v1h-2zM500 740h2v1h-2zM553 740h2v1h-2zM559 740h5v1h-5zM577 740h2v1h-2zM625 740h2v1h-2zM644 740h2v1h-2zM979 740h4v1h-4zM1068 740h2v1h-2zM1117 740h4v1h-4zM1125 740h2v1h-2zM1134 740h2v1h-2zM1145 740h4v1h-4zM1199 740h2v1h-2zM35 741h2v1h-2zM234 741h3v1h-3zM268 741h2v1h-2zM289 741h11v1h-11zM399 741h2v1h-2zM445 741h2v1h-2zM455 741h3v1h-3zM463 741h5v1h-5zM555 741h4v1h-4zM564 741h2v1h-2zM575 741h2v1h-2zM623 741h2v1h-2zM983 741h5v1h-5zM1018 741h10v1h-10zM1070 741h2v1h-2zM1113 741h4v1h-4zM1127 741h3v1h-3zM1132 741h2v1h-2zM1149 741h4v1h-4zM1156 741h2v1h-2zM1185 741h2v1h-2zM37 742h4v1h-4zM217 742h2v1h-2zM220 742h2v1h-2zM232 742h2v1h-2zM447 742h3v1h-3zM453 742h2v1h-2zM566 742h2v1h-2zM1016 742h2v1h-2zM1028 742h2v1h-2zM1072 742h2v1h-2zM1109 742h4v1h-4zM1130 742h2v1h-2zM1153 742h3v1h-3zM1187 742h2v1h-2zM10 743h2v1h-2zM41 743h3v1h-3zM222 743h2v1h-2zM230 743h2v1h-2zM423 743h2v1h-2zM450 743h3v1h-3zM568 743h2v1h-2zM572 743h2v1h-2zM611 743h4v1h-4zM620 743h2v1h-2zM1014 743h2v1h-2zM1074 743h2v1h-2zM1107 743h2v1h-2zM1189 743h4v1h-4zM7 744h3v1h-3zM12 744h2v1h-2zM44 744h2v1h-2zM145 744h2v1h-2zM224 744h2v1h-2zM228 744h2v1h-2zM570 744h2v1h-2zM615 744h5v1h-5zM1012 744h2v1h-2zM1031 744h2v1h-2zM1193 744h3v1h-3zM5 745h2v1h-2zM14 745h2v1h-2zM46 745h2v1h-2zM149 745h2v1h-2zM213 745h2v1h-2zM226 745h2v1h-2zM371 745h2v1h-2zM394 745h2v1h-2zM1033 745h2v1h-2zM3 746h2v1h-2zM16 746h2v1h-2zM48 746h2v1h-2zM373 746h2v1h-2zM392 746h2v1h-2zM427 746h2v1h-2zM1009 746h2v1h-2zM1035 746h2v1h-2zM18 747h3v1h-3zM50 747h2v1h-2zM131 747h2v1h-2zM141 747h2v1h-2zM161 747h3v1h-3zM375 747h3v1h-3zM390 747h2v1h-2zM429 747h2v1h-2zM1007 747h2v1h-2zM1037 747h4v1h-4zM21 748h4v1h-4zM133 748h4v1h-4zM153 748h2v1h-2zM157 748h4v1h-4zM378 748h5v1h-5zM388 748h2v1h-2zM431 748h3v1h-3zM1041 748h3v1h-3zM25 749h3v1h-3zM137 749h3v1h-3zM155 749h2v1h-2zM383 749h5v1h-5zM434 749h2v1h-2zM1004 749h2v1h-2zM1044 749h2v1h-2zM66 750h2v1h-2zM1002 750h2v1h-2zM1046 750h2v1h-2zM55 751h2v1h-2zM64 751h2v1h-2zM309 751h2v1h-2zM322 751h2v1h-2zM999 751h3v1h-3zM1048 751h2v1h-2zM62 752h2v1h-2zM320 752h2v1h-2zM324 752h2v1h-2zM997 752h2v1h-2zM1050 752h2v1h-2zM60 753h2v1h-2zM318 753h2v1h-2zM995 753h2v1h-2zM313 754h2v1h-2zM316 754h2v1h-2zM327 754h2v1h-2zM329 755h2v1h-2zM331 756h2v1h-2zM171 757h10v1h-10zM333 757h2v1h-2zM359 757h2v1h-2zM181 758h4v1h-4zM335 758h3v1h-3zM185 759h3v1h-3zM338 759h11v1h-11zM349 760h4v1h-4zM76 761h2v1h-2zM353 761h3v1h-3zM78 762h2v1h-2zM80 763h2v1h-2zM191 763h2v1h-2zM82 764h2v1h-2zM107 764h2v1h-2zM84 765h2v1h-2zM105 765h2v1h-2zM109 765h4v1h-4zM199 765h5v1h-5zM103 766h2v1h-2zM113 766h3v1h-3zM195 766h4v1h-4zM87 767h2v1h-2zM89 768h2v1h-2zM100 768h2v1h-2zM91 769h9v1h-9zM28 748h1v1h-1zM29 747h1v1h-1zM30 746h1v1h-1zM31 745h1v1h-1zM32 744h1v1h-1zM33 743h1v1h-1zM34 742h1v1h-1zM52 748h1v1h-1zM53 749h1v1h-1zM54 750h1v1h-1zM57 752h1v1h-1zM58 753h1v1h-1zM59 754h1v1h-1zM68 751h1v1h-1zM69 752h1v2h-1zM70 754h1v1h-1zM71 755h1v1h-1zM72 756h1v1h-1zM73 757h1v2h-1zM74 759h1v1h-1zM75 760h1v1h-1zM86 766h1v1h-1zM102 767h1v1h-1zM116 765h1v1h-1zM117 764h1v1h-1zM118 763h1v1h-1zM119 761h1v2h-1zM120 760h1v1h-1zM121 759h1v1h-1zM122 758h1v1h-1zM123 757h1v1h-1zM124 756h1v1h-1zM125 754h1v2h-1zM126 753h1v1h-1zM127 752h1v1h-1zM128 751h1v1h-1zM129 749h1v2h-1zM130 748h1v1h-1zM140 748h1v1h-1zM143 746h1v1h-1zM144 745h1v1h-1zM147 743h1v1h-1zM148 744h1v1h-1zM151 746h1v1h-1zM152 747h1v1h-1zM164 748h1v1h-1zM165 749h1v2h-1zM166 751h1v1h-1zM167 752h1v1h-1zM168 753h1v1h-1zM169 754h1v2h-1zM170 756h1v1h-1zM188 760h1v1h-1zM189 761h1v1h-1zM190 762h1v1h-1zM193 764h1v1h-1zM194 765h1v1h-1zM203 764h1v1h-1zM204 762h1v2h-1zM205 760h1v2h-1zM206 758h1v2h-1zM207 755h1v3h-1zM208 753h1v2h-1zM209 751h1v2h-1zM210 749h1v2h-1zM211 747h1v2h-1zM212 746h1v1h-1zM215 744h1v1h-1zM216 743h1v1h-1zM219 741h1v1h-1zM260 735h1v1h-1zM261 736h1v1h-1zM262 737h1v1h-1zM263 738h1v1h-1zM264 739h1v1h-1zM265 740h1v1h-1zM266 741h1v1h-1zM267 742h1v1h-1zM300 742h1v1h-1zM301 743h1v1h-1zM302 744h1v1h-1zM303 745h1v1h-1zM304 746h1v1h-1zM305 747h1v1h-1zM306 748h1v1h-1zM307 749h1v1h-1zM308 750h1v1h-1zM311 752h1v1h-1zM312 753h1v1h-1zM315 755h1v1h-1zM326 753h1v1h-1zM356 760h1v1h-1zM357 759h1v1h-1zM358 758h1v1h-1zM361 756h1v1h-1zM362 755h1v1h-1zM363 754h1v1h-1zM364 753h1v1h-1zM365 752h1v1h-1zM366 751h1v1h-1zM367 749h1v2h-1zM368 748h1v1h-1zM369 747h1v1h-1zM370 746h1v1h-1zM396 744h1v1h-1zM397 743h1v1h-1zM398 742h1v1h-1zM401 740h1v1h-1zM402 739h1v1h-1zM420 740h1v1h-1zM421 741h1v1h-1zM422 742h1v1h-1zM425 744h1v1h-1zM426 745h1v1h-1zM436 748h1v1h-1zM437 747h1v1h-1zM438 746h1v1h-1zM439 744h1v2h-1zM440 743h1v1h-1zM441 742h1v1h-1zM442 741h1v1h-1zM468 742h1v2h-1zM469 744h1v1h-1zM470 745h1v1h-1zM471 746h1v2h-1zM472 748h1v1h-1zM473 749h1v1h-1zM474 750h1v2h-1zM475 752h1v1h-1zM476 751h1v1h-1zM477 749h1v2h-1zM478 748h1v1h-1zM479 747h1v1h-1zM480 746h1v1h-1zM481 744h1v2h-1zM482 743h1v1h-1zM483 742h1v1h-1zM484 741h1v1h-1zM487 739h1v1h-1zM488 738h1v1h-1zM491 736h1v1h-1zM494 738h1v1h-1zM499 741h1v1h-1zM510 735h1v1h-1zM524 733h1v1h-1zM525 734h1v1h-1zM526 735h1v1h-1zM529 737h1v1h-1zM530 738h1v1h-1zM550 738h1v1h-1zM574 742h1v1h-1zM598 737h1v1h-1zM603 734h1v1h-1zM604 735h1v1h-1zM605 736h1v1h-1zM606 737h1v1h-1zM607 738h1v2h-1zM608 740h1v1h-1zM609 741h1v1h-1zM610 742h1v1h-1zM622 742h1v1h-1zM627 739h1v1h-1zM628 740h1v2h-1zM629 742h1v2h-1zM630 744h1v2h-1zM631 746h1v2h-1zM632 748h1v2h-1zM633 750h1v2h-1zM634 752h1v2h-1zM635 754h1v1h-1zM636 752h1v2h-1zM637 750h1v2h-1zM638 749h1v1h-1zM639 747h1v2h-1zM640 746h1v1h-1zM641 744h1v2h-1zM642 742h1v2h-1zM643 741h1v1h-1zM654 735h1v1h-1zM702 731h1v1h-1zM707 734h1v1h-1zM708 733h1v1h-1zM709 732h1v1h-1zM710 731h1v1h-1zM711 730h1v1h-1zM712 729h1v1h-1zM713 728h1v1h-1zM714 727h1v1h-1zM715 726h1v1h-1zM718 728h1v1h-1zM723 731h1v1h-1zM724 729h1v2h-1zM725 727h1v2h-1zM726 725h1v2h-1zM727 723h1v2h-1zM728 721h1v2h-1zM729 719h1v2h-1zM730 717h1v2h-1zM731 716h1v1h-1zM748 710h1v1h-1zM749 709h1v1h-1zM750 708h1v1h-1zM753 706h1v1h-1zM754 705h1v1h-1zM764 702h1v1h-1zM765 701h1v1h-1zM766 700h1v1h-1zM767 698h1v2h-1zM768 697h1v1h-1zM769 696h1v1h-1zM770 695h1v1h-1zM771 694h1v1h-1zM774 696h1v1h-1zM830 703h1v1h-1zM835 706h1v1h-1zM836 707h1v1h-1zM839 709h1v1h-1zM840 710h1v1h-1zM884 711h1v1h-1zM885 712h1v1h-1zM886 713h1v1h-1zM887 714h1v1h-1zM888 715h1v1h-1zM889 716h1v1h-1zM890 717h1v1h-1zM932 712h1v2h-1zM933 714h1v1h-1zM934 715h1v1h-1zM935 716h1v2h-1zM936 718h1v1h-1zM937 719h1v1h-1zM938 720h1v2h-1zM971 722h1v1h-1zM972 723h1v2h-1zM973 725h1v2h-1zM974 727h1v3h-1zM975 730h1v2h-1zM976 732h1v3h-1zM977 735h1v2h-1zM978 737h1v2h-1zM979 739h1v1h-1zM988 742h1v2h-1zM989 744h1v1h-1zM990 745h1v2h-1zM991 747h1v1h-1zM992 748h1v2h-1zM993 750h1v1h-1zM994 751h1v2h-1zM1006 748h1v1h-1zM1011 745h1v1h-1zM1030 743h1v1h-1zM1052 750h1v2h-1zM1053 748h1v2h-1zM1054 747h1v1h-1zM1055 745h1v2h-1zM1056 744h1v1h-1zM1057 742h1v2h-1zM1058 740h1v2h-1zM1076 742h1v1h-1zM1077 740h1v2h-1zM1078 739h1v1h-1zM1079 738h1v1h-1zM1080 737h1v1h-1zM1081 735h1v2h-1zM1082 734h1v1h-1zM1100 736h1v1h-1zM1101 737h1v1h-1zM1102 738h1v1h-1zM1103 739h1v1h-1zM1104 740h1v1h-1zM1105 741h1v1h-1zM1106 742h1v1h-1zM1158 740h1v1h-1zM1180 737h1v1h-1zM1183 739h1v1h-1zM1184 740h1v1h-1zM1196 743h1v1h-1zM1197 742h1v1h-1zM1198 741h1v1h-1zM1201 739h1v1h-1zM1202 738h1v1h-1zM1203 737h1v1h-1zM1204 736h1v1h-1zM1205 735h1v1h-1zM1206 734h1v1h-1zM1209 732h1v1h-1zM1210 731h1v1h-1z"/>
<path fill="#c0c0c0" d="M3 795v6h6z"/>
<rect x="0" y="565" width="1462" height="1" fill="#fff"/><rect x="0" y="670" width="1462" height="1" fill="#fff"/>
<path fill="#000" d="M2 25h1417v1H2zM2 25h1V565h-1zM1418 25h1V565h-1zM2 566h1V670h-1zM1418 566h1V670h-1zM2 671h1V802h-1zM1418 671h1V802h-1zM2 564h1417v1H2zM2 566h1417v1H2zM2 669h1417v1H2zM2 671h1417v1H2zM2 801h1417v1H2zM1419 33h2v1h-2zM1419 66h2v1h-2zM1419 99h2v1h-2zM1419 132h2v1h-2zM1419 165h2v1h-2zM1419 198h2v1h-2zM1419 231h2v1h-2zM1419 264h2v1h-2zM1419 297h2v1h-2zM1419 330h2v1h-2zM1419 363h2v1h-2zM1419 396h2v1h-2zM1419 429h2v1h-2zM1419 462h2v1h-2zM1419 495h2v1h-2zM1419 528h2v1h-2zM1419 561h2v1h-2zM1419 568h2v1h-2zM1419 628h2v1h-2zM1419 668h2v1h-2zM1419 673h1v1h-1zM1419 800h1v1h-1zM3 802h1v3h-1zM67 802h1v3h-1zM131 802h1v3h-1zM195 802h1v3h-1zM259 802h1v3h-1zM323 802h1v3h-1zM387 802h1v3h-1zM451 802h1v3h-1zM515 802h1v3h-1zM579 802h1v3h-1zM643 802h1v3h-1zM707 802h1v3h-1zM771 802h1v3h-1zM835 802h1v3h-1zM899 802h1v3h-1zM963 802h1v3h-1zM1027 802h1v3h-1zM1091 802h1v3h-1zM1155 802h1v3h-1zM1219 802h1v3h-1z"/>
<g font-family="Liberation Sans, sans-serif" font-size="9.6" fill="#000" stroke="#000" stroke-width="0.15" paint-order="stroke" shape-rendering="auto" text-rendering="geometricPrecision">
<text x="1424" y="37.1" textLength="33.0" lengthAdjust="spacingAndGlyphs">6.97200</text>
<text x="1424" y="70.1" textLength="33.0" lengthAdjust="spacingAndGlyphs">6.95275</text>
<text x="1424" y="103.1" textLength="33.0" lengthAdjust="spacingAndGlyphs">6.93295</text>
<text x="1424" y="136.1" textLength="33.0" lengthAdjust="spacingAndGlyphs">6.91370</text>
<text x="1424" y="169.1" textLength="33.0" lengthAdjust="spacingAndGlyphs">6.89445</text>
<text x="1424" y="202.1" textLength="33.0" lengthAdjust="spacingAndGlyphs">6.87520</text>
<text x="1424" y="235.1" textLength="33.0" lengthAdjust="spacingAndGlyphs">6.85595</text>
<text x="1424" y="268.1" textLength="33.0" lengthAdjust="spacingAndGlyphs">6.83670</text>
<text x="1424" y="301.1" textLength="33.0" lengthAdjust="spacingAndGlyphs">6.81745</text>
<text x="1424" y="334.1" textLength="33.0" lengthAdjust="spacingAndGlyphs">6.79820</text>
<text x="1424" y="367.1" textLength="33.0" lengthAdjust="spacingAndGlyphs">6.77895</text>
<text x="1424" y="400.1" textLength="33.0" lengthAdjust="spacingAndGlyphs">6.75970</text>
<text x="1424" y="433.1" textLength="33.0" lengthAdjust="spacingAndGlyphs">6.74045</text>
<text x="1424" y="466.1" textLength="33.0" lengthAdjust="spacingAndGlyphs">6.72120</text>
<text x="1424" y="499.1" textLength="33.0" lengthAdjust="spacingAndGlyphs">6.70195</text>
<text x="1424" y="532.1" textLength="33.0" lengthAdjust="spacingAndGlyphs">6.68270</text>
<text x="1424" y="565.1" textLength="33.0" lengthAdjust="spacingAndGlyphs">6.66345</text>
<rect x="1420" y="46" width="41" height="11" fill="#ff0000" shape-rendering="crispEdges"/>
<text x="1424" y="55" fill="#fff" stroke="#fff" textLength="33.0" lengthAdjust="spacingAndGlyphs">6.96044</text>
<rect x="1420" y="148" width="41" height="11" fill="#00ff00" shape-rendering="crispEdges"/>
<text x="1424" y="157" fill="#fff" stroke="#fff" textLength="33.0" lengthAdjust="spacingAndGlyphs">6.90100</text>
<rect x="1420" y="285" width="41" height="11" fill="#0000ff" shape-rendering="crispEdges"/>
<text x="1424" y="294" fill="#fff" stroke="#fff" textLength="33.0" lengthAdjust="spacingAndGlyphs">6.82103</text>
<rect x="1420" y="393" width="41" height="11" fill="#0000ff" shape-rendering="crispEdges"/>
<text x="1424" y="402" fill="#fff" stroke="#fff" textLength="33.0" lengthAdjust="spacingAndGlyphs">6.75804</text>
<rect x="1420" y="166" width="41" height="11" fill="#000000" shape-rendering="crispEdges"/>
<text x="1424" y="175" fill="#fff" stroke="#fff" textLength="33.0" lengthAdjust="spacingAndGlyphs">6.89135</text>
<text x="1422" y="577" textLength="38.0" lengthAdjust="spacingAndGlyphs">0.060342</text>
<text x="1422" y="631.7" textLength="17.8" lengthAdjust="spacingAndGlyphs">0.00</text>
<text x="1422" y="666" textLength="41.1" lengthAdjust="spacingAndGlyphs">-0.040415</text>
<text x="1422" y="682" textLength="15.2" lengthAdjust="spacingAndGlyphs">100</text>
<text x="1422" y="715" textLength="10.1" lengthAdjust="spacingAndGlyphs">70</text>
<text x="1422" y="766" textLength="10.1" lengthAdjust="spacingAndGlyphs">30</text>
<text x="1422" y="797.8" textLength="5.1" lengthAdjust="spacingAndGlyphs">0</text>
<text x="2.5" y="814.3" textLength="51.7" lengthAdjust="spacingAndGlyphs">27 Dec 2018</text>
<text x="66.5" y="814.3" textLength="45.1" lengthAdjust="spacingAndGlyphs">8 Jan 2019</text>
<text x="130.5" y="814.3" textLength="50.2" lengthAdjust="spacingAndGlyphs">18 Jan 2019</text>
<text x="194.5" y="814.3" textLength="50.2" lengthAdjust="spacingAndGlyphs">30 Jan 2019</text>
<text x="258.5" y="814.3" textLength="50.5" lengthAdjust="spacingAndGlyphs">11 Feb 2019</text>
<text x="322.5" y="814.3" textLength="51.2" lengthAdjust="spacingAndGlyphs">21 Feb 2019</text>
<text x="386.5" y="814.3" textLength="46.1" lengthAdjust="spacingAndGlyphs">5 Mar 2019</text>
<text x="450.5" y="814.3" textLength="51.2" lengthAdjust="spacingAndGlyphs">15 Mar 2019</text>
<text x="514.5" y="814.3" textLength="51.2" lengthAdjust="spacingAndGlyphs">27 Mar 2019</text>
<text x="578.5" y="814.3" textLength="44.1" lengthAdjust="spacingAndGlyphs">8 Apr 2019</text>
<text x="642.5" y="814.3" textLength="49.2" lengthAdjust="spacingAndGlyphs">18 Apr 2019</text>
<text x="706.5" y="814.3" textLength="47.7" lengthAdjust="spacingAndGlyphs">1 May 2019</text>
<text x="770.5" y="814.3" textLength="52.7" lengthAdjust="spacingAndGlyphs">13 May 2019</text>
<text x="834.5" y="814.3" textLength="52.7" lengthAdjust="spacingAndGlyphs">23 May 2019</text>
<text x="898.5" y="814.3" textLength="45.1" lengthAdjust="spacingAndGlyphs">4 Jun 2019</text>
<text x="962.5" y="814.3" textLength="50.2" lengthAdjust="spacingAndGlyphs">14 Jun 2019</text>
<text x="1026.5" y="814.3" textLength="50.2" lengthAdjust="spacingAndGlyphs">26 Jun 2019</text>
<text x="1090.5" y="814.3" textLength="42.1" lengthAdjust="spacingAndGlyphs">8 Jul 2019</text>
<text x="1154.5" y="814.3" textLength="47.2" lengthAdjust="spacingAndGlyphs">18 Jul 2019</text>
<text x="1218.5" y="814.3" textLength="47.2" lengthAdjust="spacingAndGlyphs">30 Jul 2019</text>
<text x="7" y="579" textLength="150.5" lengthAdjust="spacingAndGlyphs">MACD(12,26,9) 0.000264 -0.001984</text>
<text x="7" y="684" textLength="66.9" lengthAdjust="spacingAndGlyphs">RSI(14) 54.4704</text>
<text x="18.3" y="37.3" textLength="67.5" lengthAdjust="spacingAndGlyphs">USDCNH-,Daily</text>
<text x="92.8" y="37.3" textLength="140.5" lengthAdjust="spacingAndGlyphs">6.88987 6.89282 6.88805 6.89135</text>
</g>
<path fill="#000" d="M6 36l3.5-3.5 3.5 3.5z" shape-rendering="auto"/>
</svg>
<!-- toolbar -->
<div id="tb">
<div class="abs" style="left:0;top:0;width:1462px;height:21px;background:#f0f0f0"></div>
<div class="abs" style="left:0;top:21px;width:1462px;height:1px;background:#c4c4c4"></div>
<div class="abs" style="left:0;top:22px;width:1462px;height:1px;background:#8c8c8c"></div>
<div class="abs" style="left:29px;top:0;width:25px;height:19px;background:#f7f7f7"></div>
<div class="abs" style="left:28px;top:0;width:1px;height:19px;background:#b0b0b0"></div>
<div class="abs" style="left:111px;top:0;width:1px;height:21px;background:#b0b0b0"></div>
<div class="abs" style="left:112px;top:0;width:1px;height:21px;background:#fff"></div>
<span style="left:5px">H4</span><span style="left:34px">D1</span><span style="left:62px">W1</span><span style="left:88px">MN</span>
</div>
<!-- trade panel -->
<div class="abs" style="left:4px;top:43px;width:223px;height:68px;background:#fff"></div>
<div class="pnl" style="left:6px;top:45px;width:52px;height:24px;background:linear-gradient(#5555f5,#3e3ee0)"></div>
<div class="pnl" style="left:173px;top:45px;width:52px;height:24px;background:linear-gradient(#5555f5,#3e3ee0)"></div>
<div class="pnl" style="left:6px;top:69px;width:109px;height:40px;background:linear-gradient(#3c3cdc,#0000aa)"></div>
<div class="pnl" style="left:117px;top:69px;width:108px;height:40px;background:linear-gradient(#3c3cdc,#0000aa)"></div>
<div class="abs" style="left:10px;top:69px;width:44px;height:1px;background:#a4a4f0"></div>
<div class="abs" style="left:177px;top:69px;width:44px;height:1px;background:#a4a4f0"></div>
<div class="pnl" id="tsell" style="left:18.2px;top:50px;font-size:12px;line-height:14px;transform:scaleX(0.9);transform-origin:0 0">SELL</div>
<div class="pnl" id="tbuy" style="left:186px;top:50px;font-size:12px;line-height:14px">BUY</div>
<div class="abs" style="left:60px;top:45px;width:109px;height:20px;background:#fff;border:1px solid #a8a8a8;box-sizing:content-box"></div>
<div class="abs" style="left:61px;top:47px;width:20px;height:19px;background:linear-gradient(#f2f2f2 0,#e9e9e9 48%,#d8d8d8 52%,#cfcfcf 100%);border-right:1px solid #c0c0c0"></div>
<div class="abs" style="left:150px;top:47px;width:20px;height:19px;background:linear-gradient(#f2f2f2 0,#e9e9e9 48%,#d8d8d8 52%,#cfcfcf 100%);border-left:1px solid #c0c0c0;margin-left:-1px"></div>
<div class="abs" style="left:68px;top:54px;width:0;height:0;border-left:3px solid transparent;border-right:3px solid transparent;border-top:3px solid #5068b0"></div>
<div class="abs" style="left:157px;top:54px;width:0;height:0;border-left:3px solid transparent;border-right:3px solid transparent;border-bottom:3px solid #5068b0"></div>
<div class="abs" id="tvol" style="left:100px;top:49px;width:46px;text-align:right;font-size:12px;line-height:14px;color:#000">1.00</div>
<div class="pnl" id="s1" style="left:26px;top:90px;font-size:11.5px;letter-spacing:0.4px;font-weight:bold;line-height:12px">6.89</div>
<div class="pnl" id="s2" style="left:53px;top:70.7px;font-size:33px;line-height:36px;letter-spacing:-1px">13</div>
<div class="pnl" id="s3" style="left:93.5px;top:74px;font-size:11.5px;font-weight:bold;line-height:12px">5</div>
<div class="pnl" id="b1" style="left:136px;top:90px;font-size:11.5px;letter-spacing:0.4px;font-weight:bold;line-height:12px">6.89</div>
<div class="pnl" id="b2" style="left:164px;top:70.7px;font-size:33px;line-height:36px;letter-spacing:-1px">36</div>
<div class="pnl" id="b3" style="left:204px;top:74px;font-size:11.5px;font-weight:bold;line-height:12px">2</div>
<!-- tabs -->
<div id="tabs">
<div class="abs" style="left:0;top:822px;width:1462px;height:28px;background:#f0f0f0"></div>
<div class="abs" style="left:0;top:822px;width:1462px;height:2px;background:#e6e6e6"></div>
<div class="abs" style="left:0;top:824px;width:1462px;height:1px;background:#1a1a1a"></div>
<div class="abs" style="left:0;top:844px;width:1462px;height:1px;background:#fff"></div>
<div class="abs" style="left:0;top:848px;width:1462px;height:1px;background:#a0a0a0"></div>
<div class="abs" style="left:437px;top:822px;width:110px;height:20px;background:#fff"></div>
<div class="abs" style="left:436px;top:824px;width:1px;height:19px;background:#000"></div>
<div class="abs" style="left:547px;top:824px;width:1px;height:19px;background:#000"></div>
<div class="abs" style="left:436px;top:842px;width:112px;height:1px;background:#000"></div>
<span style="left:15px">EURUSD-,Daily</span><i style="left:112px"></i>
<span style="left:122px">AUDUSD-,Daily</span><i style="left:220px"></i>
<span style="left:232px">USDCHF-,Daily</span><i style="left:328px"></i>
<span style="left:339px">USDCAD-,Daily</span>
<span style="left:448px;color:#000">USDCNH-,Daily</span>
<span style="left:559px">EURCHF-,Weekly</span><i style="left:668px"></i>
<span style="left:680px">XAUUSD-,Weekly</span><i style="left:792px"></i>
<span style="left:803px">GBPUSD-,H1</span><i style="left:888px"></i>
<span style="left:899px">UKOil-,H1</span><i style="left:968px"></i>
<span style="left:978px">USDX-,Weekly</span><i style="left:1072px"></i>
<div class="abs" style="left:1433.5px;top:829.5px;width:0;height:0;border-top:3.5px solid transparent;border-bottom:3.5px solid transparent;border-right:4px solid #999"></div>
<div class="abs" style="left:1452.5px;top:829.5px;width:0;height:0;border-top:3.5px solid transparent;border-bottom:3.5px solid transparent;border-left:4px solid #999"></div>
</div>
</body></html>
